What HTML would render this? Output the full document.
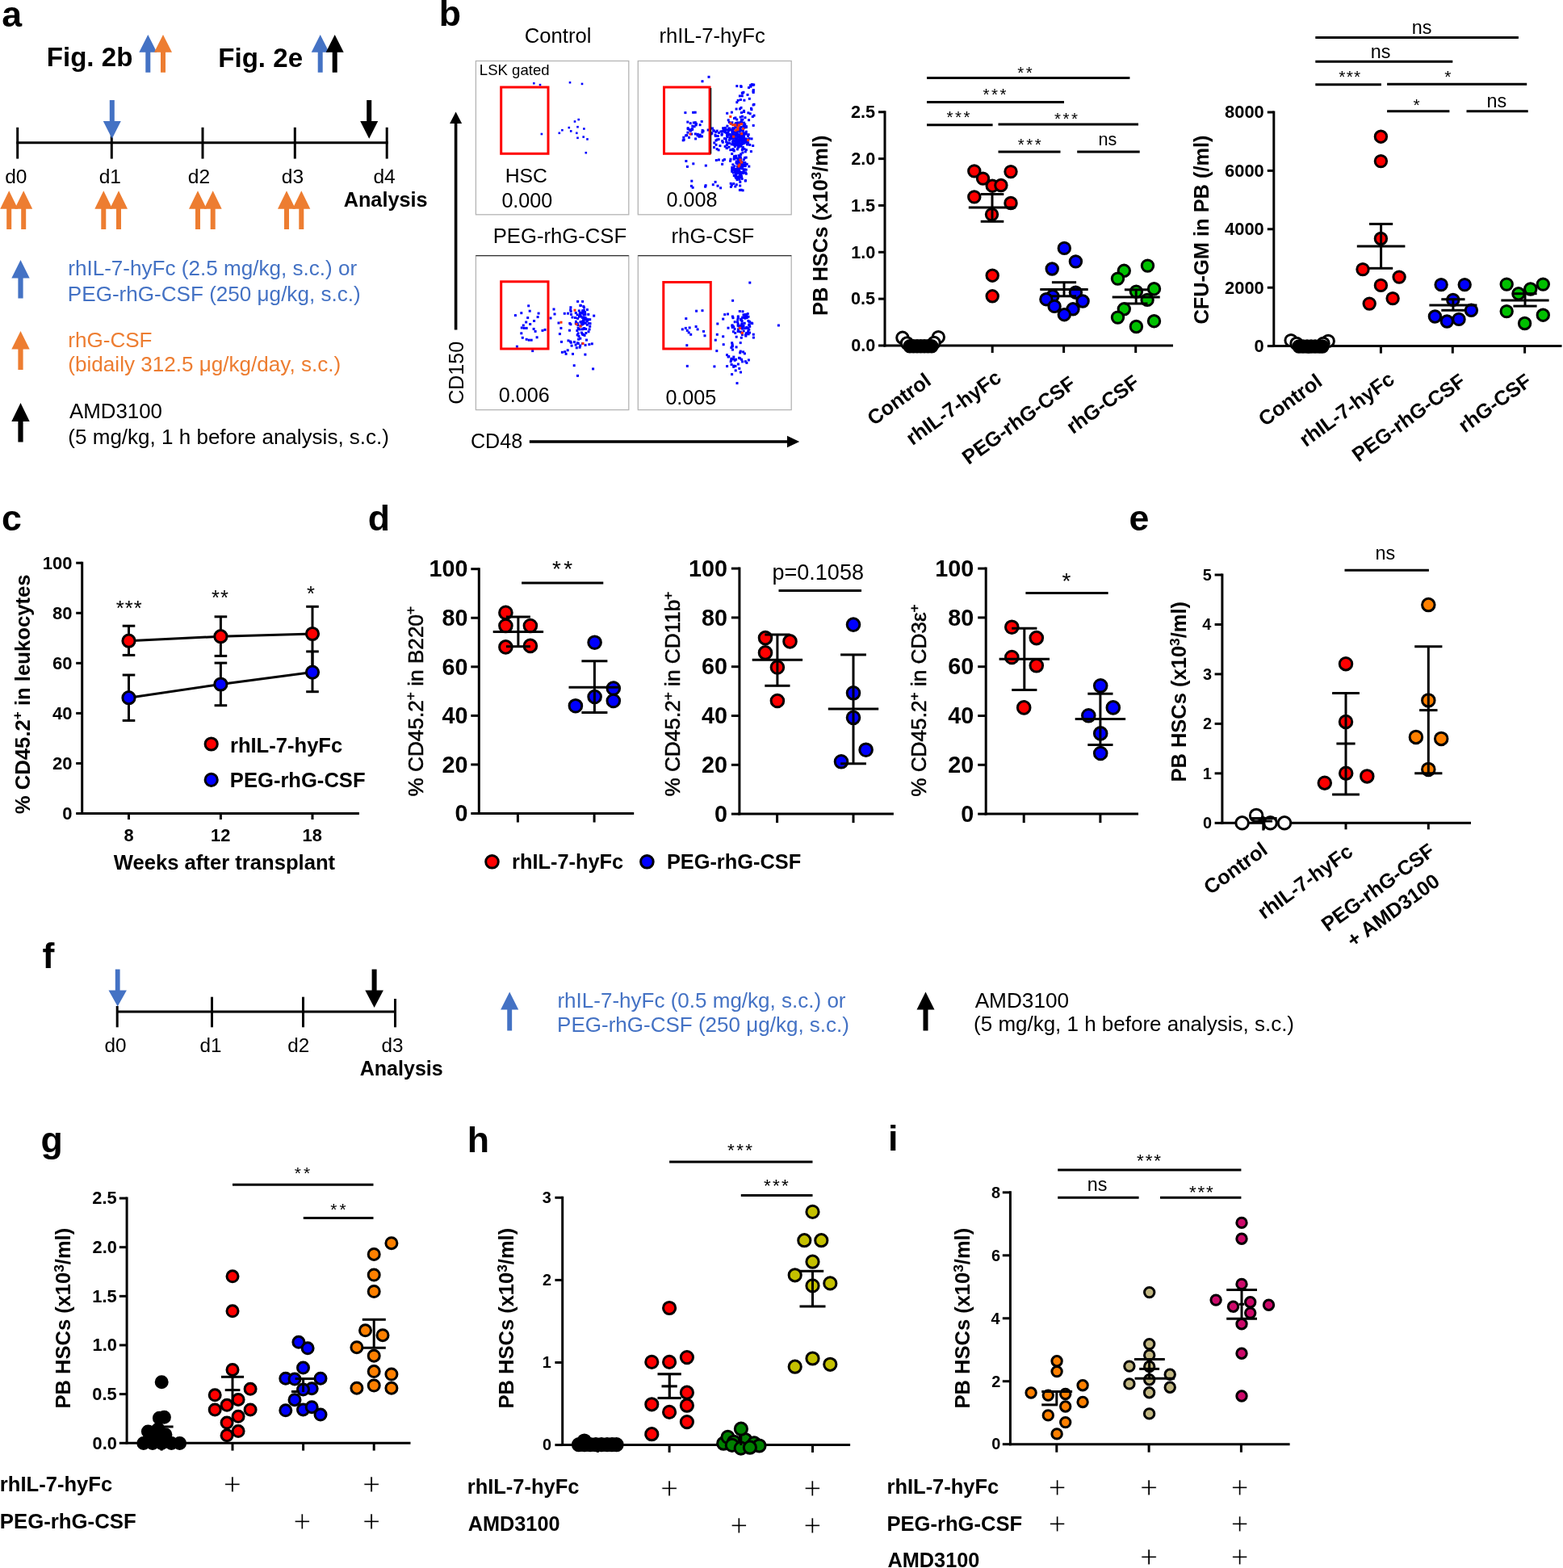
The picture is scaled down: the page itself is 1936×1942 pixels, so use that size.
<!DOCTYPE html>
<html><head><meta charset="utf-8"><title>Figure 2</title>
<style>
html,body{margin:0;padding:0;background:#fff;}
svg{display:block;}
text{font-family:"Liberation Sans",Arial,sans-serif;}
</style></head>
<body>
<svg width="1936" height="1942" viewBox="0 0 1936 1942">
<rect width="1936" height="1942" fill="#fff"/>
<text x="2.36" y="32.50" font-size="44.66" font-weight="bold" fill="#000">a</text>
<text x="543.80" y="32.20" font-size="44.66" font-weight="bold" fill="#000">b</text>
<text x="1.91" y="657.40" font-size="44.66" font-weight="bold" fill="#000">c</text>
<text x="455.71" y="657.40" font-size="44.66" font-weight="bold" fill="#000">d</text>
<text x="1398.51" y="657.00" font-size="44.66" font-weight="bold" fill="#000">e</text>
<text x="52.42" y="1199.20" font-size="44.66" font-weight="bold" fill="#000">f</text>
<text x="50.61" y="1427.10" font-size="44.66" font-weight="bold" fill="#000">g</text>
<text x="578.67" y="1426.50" font-size="44.66" font-weight="bold" fill="#000">h</text>
<text x="1099.97" y="1425.10" font-size="44.66" font-weight="bold" fill="#000">i</text>
<text x="57.77" y="82.00" font-size="33.09" font-weight="bold" fill="#000">Fig. 2b</text>
<text x="270.27" y="82.50" font-size="33.09" font-weight="bold" fill="#000">Fig. 2e</text>
<polygon points="183.30,43.00 194.30,64.70 186.30,64.70 186.30,89.70 180.30,89.70 180.30,64.70 172.30,64.70" fill="#4472C4"/>
<polygon points="202.00,43.00 213.00,64.70 205.00,64.70 205.00,89.70 199.00,89.70 199.00,64.70 191.00,64.70" fill="#ED7D31"/>
<polygon points="396.70,43.00 407.70,64.70 399.70,64.70 399.70,89.70 393.70,89.70 393.70,64.70 385.70,64.70" fill="#4472C4"/>
<polygon points="414.70,43.00 425.70,64.70 417.70,64.70 417.70,89.70 411.70,89.70 411.70,64.70 403.70,64.70" fill="#000"/>
<line x1="20.30" y1="176.70" x2="480.70" y2="176.70" stroke="#000" stroke-width="3" stroke-linecap="butt"/>
<line x1="21.70" y1="157.80" x2="21.70" y2="196.60" stroke="#000" stroke-width="3" stroke-linecap="butt"/>
<line x1="138.30" y1="157.80" x2="138.30" y2="196.60" stroke="#000" stroke-width="3" stroke-linecap="butt"/>
<line x1="251.00" y1="157.80" x2="251.00" y2="196.60" stroke="#000" stroke-width="3" stroke-linecap="butt"/>
<line x1="365.30" y1="157.80" x2="365.30" y2="196.60" stroke="#000" stroke-width="3" stroke-linecap="butt"/>
<line x1="479.20" y1="157.80" x2="479.20" y2="196.60" stroke="#000" stroke-width="3" stroke-linecap="butt"/>
<polygon points="138.80,171.70 149.80,150.00 141.80,150.00 141.80,124.00 135.80,124.00 135.80,150.00 127.80,150.00" fill="#4472C4"/>
<polygon points="457.20,171.70 468.20,150.00 460.20,150.00 460.20,124.00 454.20,124.00 454.20,150.00 446.20,150.00" fill="#000"/>
<text x="6.16" y="226.70" font-size="24.56" fill="#000">d0</text>
<text x="122.63" y="226.70" font-size="24.56" fill="#000">d1</text>
<text x="232.76" y="226.70" font-size="24.56" fill="#000">d2</text>
<text x="348.77" y="226.70" font-size="24.56" fill="#000">d3</text>
<text x="462.43" y="226.70" font-size="24.56" fill="#000">d4</text>
<polygon points="11.20,236.30 22.20,258.70 14.20,258.70 14.20,284.00 8.20,284.00 8.20,258.70 0.20,258.70" fill="#ED7D31"/>
<polygon points="29.20,236.30 40.20,258.70 32.20,258.70 32.20,284.00 26.20,284.00 26.20,258.70 18.20,258.70" fill="#ED7D31"/>
<polygon points="128.30,236.30 139.30,258.70 131.30,258.70 131.30,284.00 125.30,284.00 125.30,258.70 117.30,258.70" fill="#ED7D31"/>
<polygon points="147.00,236.30 158.00,258.70 150.00,258.70 150.00,284.00 144.00,284.00 144.00,258.70 136.00,258.70" fill="#ED7D31"/>
<polygon points="245.00,236.30 256.00,258.70 248.00,258.70 248.00,284.00 242.00,284.00 242.00,258.70 234.00,258.70" fill="#ED7D31"/>
<polygon points="263.70,236.30 274.70,258.70 266.70,258.70 266.70,284.00 260.70,284.00 260.70,258.70 252.70,258.70" fill="#ED7D31"/>
<polygon points="355.00,236.30 366.00,258.70 358.00,258.70 358.00,284.00 352.00,284.00 352.00,258.70 344.00,258.70" fill="#ED7D31"/>
<polygon points="373.30,236.30 384.30,258.70 376.30,258.70 376.30,284.00 370.30,284.00 370.30,258.70 362.30,258.70" fill="#ED7D31"/>
<text x="425.67" y="255.80" font-size="25.27" font-weight="bold" fill="#000">Analysis</text>
<polygon points="25.50,322.00 36.70,344.50 28.60,344.50 28.60,369.50 22.40,369.50 22.40,344.50 14.30,344.50" fill="#4472C4"/>
<polygon points="25.50,410.00 36.70,432.50 28.60,432.50 28.60,458.00 22.40,458.00 22.40,432.50 14.30,432.50" fill="#ED7D31"/>
<polygon points="25.50,499.00 36.70,522.00 28.60,522.00 28.60,547.50 22.40,547.50 22.40,522.00 14.30,522.00" fill="#000"/>
<text x="84.24" y="341.20" font-size="26.09" fill="#4472C4">rhIL-7-hyFc (2.5 mg/kg, s.c.) or</text>
<text x="83.85" y="372.50" font-size="26.09" fill="#4472C4">PEG-rhG-CSF (250 μg/kg, s.c.)</text>
<text x="84.24" y="429.50" font-size="26.09" fill="#ED7D31">rhG-CSF</text>
<text x="84.37" y="460.00" font-size="26.09" fill="#ED7D31">(bidaily 312.5 μg/kg/day, s.c.)</text>
<text x="85.94" y="518.00" font-size="25.88" fill="#000">AMD3100</text>
<text x="84.37" y="549.50" font-size="26.03" fill="#000">(5 mg/kg, 1 h before analysis, s.c.)</text>
<text x="649.72" y="52.50" font-size="25.68" fill="#000">Control</text>
<text x="816.47" y="52.50" font-size="25.68" fill="#000">rhIL-7-hyFc</text>
<text x="610.68" y="301.00" font-size="25.68" fill="#000">PEG-rhG-CSF</text>
<text x="831.57" y="301.00" font-size="25.68" fill="#000">rhG-CSF</text>
<rect x="589.4" y="75.5" width="189.4" height="190.3" fill="#fff" stroke="#b4b4b4" stroke-width="1.3"/>
<rect x="790.3" y="75.5" width="189.9" height="190.3" fill="#fff" stroke="#b4b4b4" stroke-width="1.3"/>
<rect x="589.4" y="316.6" width="189.4" height="191.0" fill="#fff" stroke="#b4b4b4" stroke-width="1.3"/>
<line x1="589.40" y1="316.60" x2="778.80" y2="316.60" stroke="#333" stroke-width="1.3" stroke-linecap="butt"/>
<rect x="790.3" y="316.6" width="189.9" height="191.0" fill="#fff" stroke="#b4b4b4" stroke-width="1.3"/>
<line x1="790.30" y1="316.60" x2="980.20" y2="316.60" stroke="#333" stroke-width="1.3" stroke-linecap="butt"/>
<rect x="660.0" y="101.9" width="2.6" height="2.6" fill="#0000FF"/>
<rect x="667.7" y="103.8" width="2.6" height="2.6" fill="#0000FF"/>
<rect x="704.7" y="100.9" width="2.6" height="2.6" fill="#0000FF"/>
<rect x="719.7" y="102.6" width="2.6" height="2.6" fill="#0000FF"/>
<rect x="669.6" y="164.7" width="2.6" height="2.6" fill="#0000FF"/>
<rect x="691.5" y="163.5" width="2.6" height="2.6" fill="#0000FF"/>
<rect x="695.1" y="159.9" width="2.6" height="2.6" fill="#0000FF"/>
<rect x="703.5" y="156.8" width="2.6" height="2.6" fill="#0000FF"/>
<rect x="705.9" y="161.1" width="2.6" height="2.6" fill="#0000FF"/>
<rect x="710.7" y="149.2" width="2.6" height="2.6" fill="#0000FF"/>
<rect x="715.4" y="146.8" width="2.6" height="2.6" fill="#0000FF"/>
<rect x="714.2" y="155.9" width="2.6" height="2.6" fill="#0000FF"/>
<rect x="722.1" y="158.2" width="2.6" height="2.6" fill="#0000FF"/>
<rect x="713.0" y="163.5" width="2.6" height="2.6" fill="#0000FF"/>
<rect x="714.2" y="169.5" width="2.6" height="2.6" fill="#0000FF"/>
<rect x="721.4" y="168.3" width="2.6" height="2.6" fill="#0000FF"/>
<rect x="726.2" y="171.1" width="2.6" height="2.6" fill="#0000FF"/>
<rect x="724.5" y="187.9" width="2.6" height="2.6" fill="#0000FF"/>
<rect x="910.7" y="172.1" width="3" height="3" fill="#0000FF"/>
<rect x="910.9" y="163.0" width="3" height="3" fill="#0000FF"/>
<rect x="906.0" y="164.2" width="3" height="3" fill="#0000FF"/>
<rect x="920.3" y="171.2" width="3" height="3" fill="#0000FF"/>
<rect x="919.8" y="169.2" width="3" height="3" fill="#0000FF"/>
<rect x="915.3" y="168.5" width="3" height="3" fill="#0000FF"/>
<rect x="900.8" y="175.9" width="3" height="3" fill="#0000FF"/>
<rect x="916.0" y="172.0" width="3" height="3" fill="#0000FF"/>
<rect x="900.7" y="147.3" width="3" height="3" fill="#0000FF"/>
<rect x="906.3" y="161.3" width="3" height="3" fill="#0000FF"/>
<rect x="914.6" y="166.0" width="3" height="3" fill="#0000FF"/>
<rect x="916.1" y="159.4" width="3" height="3" fill="#0000FF"/>
<rect x="914.7" y="170.8" width="3" height="3" fill="#0000FF"/>
<rect x="907.9" y="185.4" width="3" height="3" fill="#0000FF"/>
<rect x="916.4" y="179.7" width="3" height="3" fill="#0000FF"/>
<rect x="908.2" y="158.4" width="3" height="3" fill="#0000FF"/>
<rect x="910.1" y="165.3" width="3" height="3" fill="#0000FF"/>
<rect x="916.9" y="169.2" width="3" height="3" fill="#0000FF"/>
<rect x="909.4" y="156.0" width="3" height="3" fill="#0000FF"/>
<rect x="908.9" y="179.9" width="3" height="3" fill="#0000FF"/>
<rect x="906.8" y="169.2" width="3" height="3" fill="#0000FF"/>
<rect x="915.5" y="150.1" width="3" height="3" fill="#0000FF"/>
<rect x="912.8" y="180.9" width="3" height="3" fill="#0000FF"/>
<rect x="898.4" y="163.0" width="3" height="3" fill="#0000FF"/>
<rect x="911.8" y="157.5" width="3" height="3" fill="#0000FF"/>
<rect x="916.0" y="165.8" width="3" height="3" fill="#0000FF"/>
<rect x="902.2" y="175.6" width="3" height="3" fill="#0000FF"/>
<rect x="917.2" y="176.9" width="3" height="3" fill="#0000FF"/>
<rect x="922.6" y="170.5" width="3" height="3" fill="#0000FF"/>
<rect x="913.3" y="152.2" width="3" height="3" fill="#0000FF"/>
<rect x="916.8" y="159.8" width="3" height="3" fill="#0000FF"/>
<rect x="909.3" y="152.6" width="3" height="3" fill="#0000FF"/>
<rect x="905.7" y="160.7" width="3" height="3" fill="#0000FF"/>
<rect x="921.5" y="144.2" width="3" height="3" fill="#0000FF"/>
<rect x="902.3" y="169.1" width="3" height="3" fill="#0000FF"/>
<rect x="922.6" y="172.9" width="3" height="3" fill="#0000FF"/>
<rect x="899.2" y="138.8" width="3" height="3" fill="#0000FF"/>
<rect x="915.0" y="158.4" width="3" height="3" fill="#0000FF"/>
<rect x="904.7" y="177.3" width="3" height="3" fill="#0000FF"/>
<rect x="920.2" y="168.2" width="3" height="3" fill="#0000FF"/>
<rect x="914.2" y="171.3" width="3" height="3" fill="#0000FF"/>
<rect x="923.7" y="173.3" width="3" height="3" fill="#0000FF"/>
<rect x="916.1" y="172.5" width="3" height="3" fill="#0000FF"/>
<rect x="901.5" y="180.6" width="3" height="3" fill="#0000FF"/>
<rect x="919.2" y="172.3" width="3" height="3" fill="#0000FF"/>
<rect x="898.7" y="159.5" width="3" height="3" fill="#0000FF"/>
<rect x="918.4" y="146.6" width="3" height="3" fill="#0000FF"/>
<rect x="911.2" y="177.7" width="3" height="3" fill="#0000FF"/>
<rect x="903.3" y="184.2" width="3" height="3" fill="#0000FF"/>
<rect x="916.4" y="164.8" width="3" height="3" fill="#0000FF"/>
<rect x="914.8" y="173.6" width="3" height="3" fill="#0000FF"/>
<rect x="913.3" y="179.1" width="3" height="3" fill="#0000FF"/>
<rect x="907.9" y="161.9" width="3" height="3" fill="#0000FF"/>
<rect x="919.8" y="166.8" width="3" height="3" fill="#0000FF"/>
<rect x="906.3" y="176.9" width="3" height="3" fill="#0000FF"/>
<rect x="922.8" y="161.6" width="3" height="3" fill="#0000FF"/>
<rect x="902.8" y="165.0" width="3" height="3" fill="#0000FF"/>
<rect x="911.5" y="163.2" width="3" height="3" fill="#0000FF"/>
<rect x="922.3" y="155.2" width="3" height="3" fill="#0000FF"/>
<rect x="921.3" y="152.5" width="3" height="3" fill="#0000FF"/>
<rect x="907.0" y="173.4" width="3" height="3" fill="#0000FF"/>
<rect x="920.4" y="175.9" width="3" height="3" fill="#0000FF"/>
<rect x="914.9" y="168.1" width="3" height="3" fill="#0000FF"/>
<rect x="913.6" y="172.8" width="3" height="3" fill="#0000FF"/>
<rect x="911.3" y="169.6" width="3" height="3" fill="#0000FF"/>
<rect x="916.5" y="166.5" width="3" height="3" fill="#0000FF"/>
<rect x="917.8" y="172.7" width="3" height="3" fill="#0000FF"/>
<rect x="926.6" y="170.1" width="3" height="3" fill="#0000FF"/>
<rect x="909.5" y="162.4" width="3" height="3" fill="#0000FF"/>
<rect x="912.4" y="176.7" width="3" height="3" fill="#0000FF"/>
<rect x="910.1" y="170.7" width="3" height="3" fill="#0000FF"/>
<rect x="925.4" y="138.3" width="3" height="3" fill="#0000FF"/>
<rect x="904.6" y="169.2" width="3" height="3" fill="#0000FF"/>
<rect x="915.3" y="169.1" width="3" height="3" fill="#0000FF"/>
<rect x="909.5" y="173.7" width="3" height="3" fill="#0000FF"/>
<rect x="914.5" y="160.8" width="3" height="3" fill="#0000FF"/>
<rect x="929.5" y="170.4" width="3" height="3" fill="#0000FF"/>
<rect x="908.6" y="165.4" width="3" height="3" fill="#0000FF"/>
<rect x="910.9" y="165.8" width="3" height="3" fill="#0000FF"/>
<rect x="893.4" y="161.1" width="3" height="3" fill="#0000FF"/>
<rect x="919.6" y="153.6" width="3" height="3" fill="#0000FF"/>
<rect x="912.0" y="177.0" width="3" height="3" fill="#0000FF"/>
<rect x="918.5" y="182.9" width="3" height="3" fill="#0000FF"/>
<rect x="900.6" y="162.6" width="3" height="3" fill="#0000FF"/>
<rect x="910.1" y="173.4" width="3" height="3" fill="#0000FF"/>
<rect x="920.1" y="137.0" width="3" height="3" fill="#0000FF"/>
<rect x="920.1" y="150.6" width="3" height="3" fill="#0000FF"/>
<rect x="917.3" y="150.1" width="3" height="3" fill="#0000FF"/>
<rect x="913.7" y="179.6" width="3" height="3" fill="#0000FF"/>
<rect x="911.5" y="168.6" width="3" height="3" fill="#0000FF"/>
<rect x="918.1" y="168.1" width="3" height="3" fill="#0000FF"/>
<rect x="911.9" y="183.4" width="3" height="3" fill="#0000FF"/>
<rect x="919.8" y="163.3" width="3" height="3" fill="#0000FF"/>
<rect x="931.7" y="153.9" width="3" height="3" fill="#0000FF"/>
<rect x="918.9" y="163.6" width="3" height="3" fill="#0000FF"/>
<rect x="913.4" y="174.3" width="3" height="3" fill="#0000FF"/>
<rect x="914.1" y="173.5" width="3" height="3" fill="#0000FF"/>
<rect x="901.8" y="149.9" width="3" height="3" fill="#0000FF"/>
<rect x="916.8" y="155.9" width="3" height="3" fill="#0000FF"/>
<rect x="905.3" y="150.3" width="3" height="3" fill="#0000FF"/>
<rect x="921.4" y="174.7" width="3" height="3" fill="#0000FF"/>
<rect x="922.8" y="156.2" width="3" height="3" fill="#0000FF"/>
<rect x="912.5" y="154.0" width="3" height="3" fill="#0000FF"/>
<rect x="917.9" y="184.0" width="3" height="3" fill="#0000FF"/>
<rect x="906.3" y="183.7" width="3" height="3" fill="#0000FF"/>
<rect x="919.4" y="164.5" width="3" height="3" fill="#0000FF"/>
<rect x="898.7" y="182.0" width="3" height="3" fill="#0000FF"/>
<rect x="911.8" y="159.9" width="3" height="3" fill="#0000FF"/>
<rect x="915.3" y="171.0" width="3" height="3" fill="#0000FF"/>
<rect x="923.0" y="155.3" width="3" height="3" fill="#0000FF"/>
<rect x="920.5" y="182.9" width="3" height="3" fill="#0000FF"/>
<rect x="922.7" y="164.5" width="3" height="3" fill="#0000FF"/>
<rect x="907.3" y="177.7" width="3" height="3" fill="#0000FF"/>
<rect x="913.3" y="167.9" width="3" height="3" fill="#0000FF"/>
<rect x="922.5" y="163.6" width="3" height="3" fill="#0000FF"/>
<rect x="896.4" y="162.2" width="3" height="3" fill="#0000FF"/>
<rect x="899.5" y="175.5" width="3" height="3" fill="#0000FF"/>
<rect x="914.7" y="159.8" width="3" height="3" fill="#0000FF"/>
<rect x="912.4" y="175.7" width="3" height="3" fill="#0000FF"/>
<rect x="913.1" y="181.1" width="3" height="3" fill="#0000FF"/>
<rect x="912.1" y="177.9" width="3" height="3" fill="#0000FF"/>
<rect x="922.9" y="184.2" width="3" height="3" fill="#0000FF"/>
<rect x="907.8" y="176.2" width="3" height="3" fill="#0000FF"/>
<rect x="899.4" y="154.6" width="3" height="3" fill="#0000FF"/>
<rect x="898.8" y="178.3" width="3" height="3" fill="#0000FF"/>
<rect x="903.9" y="166.4" width="3" height="3" fill="#0000FF"/>
<rect x="911.2" y="166.2" width="3" height="3" fill="#0000FF"/>
<rect x="908.4" y="169.1" width="3" height="3" fill="#0000FF"/>
<rect x="925.0" y="167.0" width="3" height="3" fill="#0000FF"/>
<rect x="916.2" y="177.5" width="3" height="3" fill="#0000FF"/>
<rect x="911.1" y="152.6" width="3" height="3" fill="#0000FF"/>
<rect x="908.6" y="178.3" width="3" height="3" fill="#0000FF"/>
<rect x="901.0" y="159.9" width="3" height="3" fill="#0000FF"/>
<rect x="919.6" y="175.2" width="3" height="3" fill="#0000FF"/>
<rect x="912.6" y="175.4" width="3" height="3" fill="#0000FF"/>
<rect x="913.7" y="153.5" width="3" height="3" fill="#0000FF"/>
<rect x="901.6" y="159.5" width="3" height="3" fill="#0000FF"/>
<rect x="919.0" y="160.3" width="3" height="3" fill="#0000FF"/>
<rect x="906.2" y="158.0" width="3" height="3" fill="#0000FF"/>
<rect x="901.8" y="165.2" width="3" height="3" fill="#0000FF"/>
<rect x="904.2" y="170.5" width="3" height="3" fill="#0000FF"/>
<rect x="896.0" y="170.1" width="3" height="3" fill="#0000FF"/>
<rect x="908.0" y="145.1" width="3" height="3" fill="#0000FF"/>
<rect x="917.6" y="163.5" width="3" height="3" fill="#0000FF"/>
<rect x="896.9" y="156.9" width="3" height="3" fill="#0000FF"/>
<rect x="914.5" y="161.5" width="3" height="3" fill="#0000FF"/>
<rect x="918.0" y="174.7" width="3" height="3" fill="#0000FF"/>
<rect x="917.2" y="170.1" width="3" height="3" fill="#0000FF"/>
<rect x="921.8" y="173.8" width="3" height="3" fill="#0000FF"/>
<rect x="915.7" y="143.6" width="3" height="3" fill="#0000FF"/>
<rect x="918.8" y="180.9" width="3" height="3" fill="#0000FF"/>
<rect x="910.4" y="161.3" width="3" height="3" fill="#0000FF"/>
<rect x="926.1" y="147.2" width="3" height="3" fill="#0000FF"/>
<rect x="915.8" y="193.2" width="3" height="3" fill="#0000FF"/>
<rect x="906.0" y="174.1" width="3" height="3" fill="#0000FF"/>
<rect x="925.7" y="165.2" width="3" height="3" fill="#0000FF"/>
<rect x="916.4" y="176.4" width="3" height="3" fill="#0000FF"/>
<rect x="906.2" y="165.5" width="3" height="3" fill="#0000FF"/>
<rect x="914.5" y="175.6" width="3" height="3" fill="#0000FF"/>
<rect x="912.3" y="164.4" width="3" height="3" fill="#0000FF"/>
<rect x="905.4" y="162.6" width="3" height="3" fill="#0000FF"/>
<rect x="918.7" y="167.6" width="3" height="3" fill="#0000FF"/>
<rect x="906.5" y="157.2" width="3" height="3" fill="#0000FF"/>
<rect x="931.2" y="179.0" width="3" height="3" fill="#0000FF"/>
<rect x="917.0" y="138.0" width="3" height="3" fill="#0000FF"/>
<rect x="916.9" y="171.8" width="3" height="3" fill="#0000FF"/>
<rect x="924.3" y="171.2" width="3" height="3" fill="#0000FF"/>
<rect x="912.0" y="172.2" width="3" height="3" fill="#0000FF"/>
<rect x="898.9" y="177.9" width="3" height="3" fill="#0000FF"/>
<rect x="914.8" y="158.8" width="3" height="3" fill="#0000FF"/>
<rect x="921.8" y="186.4" width="3" height="3" fill="#0000FF"/>
<rect x="902.7" y="159.2" width="3" height="3" fill="#0000FF"/>
<rect x="914.5" y="168.5" width="3" height="3" fill="#0000FF"/>
<rect x="909.7" y="155.8" width="3" height="3" fill="#0000FF"/>
<rect x="927.3" y="177.9" width="3" height="3" fill="#0000FF"/>
<rect x="904.1" y="151.7" width="3" height="3" fill="#0000FF"/>
<rect x="924.4" y="177.4" width="3" height="3" fill="#0000FF"/>
<rect x="925.2" y="175.4" width="3" height="3" fill="#0000FF"/>
<rect x="906.4" y="169.4" width="3" height="3" fill="#0000FF"/>
<rect x="897.4" y="158.3" width="3" height="3" fill="#0000FF"/>
<rect x="912.1" y="172.3" width="3" height="3" fill="#0000FF"/>
<rect x="907.4" y="165.1" width="3" height="3" fill="#0000FF"/>
<rect x="915.7" y="170.6" width="3" height="3" fill="#0000FF"/>
<rect x="917.0" y="168.8" width="3" height="3" fill="#0000FF"/>
<rect x="910.2" y="175.2" width="3" height="3" fill="#0000FF"/>
<rect x="912.8" y="157.4" width="3" height="3" fill="#0000FF"/>
<rect x="908.1" y="166.5" width="3" height="3" fill="#0000FF"/>
<rect x="911.7" y="168.2" width="3" height="3" fill="#0000FF"/>
<rect x="912.5" y="168.4" width="3" height="3" fill="#0000FF"/>
<rect x="911.6" y="152.7" width="3" height="3" fill="#0000FF"/>
<rect x="915.4" y="178.1" width="3" height="3" fill="#0000FF"/>
<rect x="915.5" y="164.4" width="3" height="3" fill="#0000FF"/>
<rect x="915.6" y="155.9" width="3" height="3" fill="#0000FF"/>
<rect x="899.2" y="167.2" width="3" height="3" fill="#0000FF"/>
<rect x="906.0" y="174.6" width="3" height="3" fill="#0000FF"/>
<rect x="904.9" y="137.6" width="3" height="3" fill="#0000FF"/>
<rect x="905.2" y="183.9" width="3" height="3" fill="#0000FF"/>
<rect x="909.8" y="151.4" width="3" height="3" fill="#0000FF"/>
<rect x="907.2" y="172.2" width="3" height="3" fill="#0000FF"/>
<rect x="916.0" y="168.4" width="3" height="3" fill="#0000FF"/>
<rect x="922.9" y="174.3" width="3" height="3" fill="#0000FF"/>
<rect x="912.4" y="173.1" width="3" height="3" fill="#0000FF"/>
<rect x="924.1" y="177.2" width="3" height="3" fill="#0000FF"/>
<rect x="919.7" y="154.6" width="3" height="3" fill="#0000FF"/>
<rect x="911.5" y="174.5" width="3" height="3" fill="#0000FF"/>
<rect x="910.4" y="178.3" width="3" height="3" fill="#0000FF"/>
<rect x="916.7" y="176.5" width="3" height="3" fill="#0000FF"/>
<rect x="911.0" y="194.5" width="3" height="3" fill="#0000FF"/>
<rect x="921.2" y="164.1" width="3" height="3" fill="#0000FF"/>
<rect x="913.1" y="195.0" width="3" height="3" fill="#0000FF"/>
<rect x="910.1" y="176.1" width="3" height="3" fill="#0000FF"/>
<rect x="919.4" y="166.6" width="3" height="3" fill="#0000FF"/>
<rect x="904.3" y="168.6" width="3" height="3" fill="#0000FF"/>
<rect x="915.0" y="178.9" width="3" height="3" fill="#0000FF"/>
<rect x="918.0" y="166.8" width="3" height="3" fill="#0000FF"/>
<rect x="918.5" y="172.4" width="3" height="3" fill="#0000FF"/>
<rect x="913.9" y="167.1" width="3" height="3" fill="#0000FF"/>
<rect x="910.8" y="174.0" width="3" height="3" fill="#0000FF"/>
<rect x="905.1" y="159.6" width="3" height="3" fill="#0000FF"/>
<rect x="912.5" y="150.4" width="3" height="3" fill="#0000FF"/>
<rect x="909.4" y="144.4" width="3" height="3" fill="#0000FF"/>
<rect x="907.7" y="172.8" width="3" height="3" fill="#0000FF"/>
<rect x="916.5" y="165.9" width="3" height="3" fill="#0000FF"/>
<rect x="910.9" y="150.9" width="3" height="3" fill="#0000FF"/>
<rect x="925.3" y="172.2" width="3" height="3" fill="#0000FF"/>
<rect x="920.2" y="156.8" width="3" height="3" fill="#0000FF"/>
<rect x="911.2" y="146.5" width="3" height="3" fill="#0000FF"/>
<rect x="918.0" y="176.8" width="3" height="3" fill="#0000FF"/>
<rect x="899.2" y="165.9" width="3" height="3" fill="#0000FF"/>
<rect x="916.9" y="147.1" width="3" height="3" fill="#0000FF"/>
<rect x="903.5" y="195.7" width="3" height="3" fill="#0000FF"/>
<rect x="910.0" y="191.7" width="3" height="3" fill="#0000FF"/>
<rect x="913.7" y="211.5" width="3" height="3" fill="#0000FF"/>
<rect x="917.0" y="216.9" width="3" height="3" fill="#0000FF"/>
<rect x="921.8" y="222.5" width="3" height="3" fill="#0000FF"/>
<rect x="906.3" y="202.4" width="3" height="3" fill="#0000FF"/>
<rect x="907.7" y="195.6" width="3" height="3" fill="#0000FF"/>
<rect x="913.1" y="208.6" width="3" height="3" fill="#0000FF"/>
<rect x="916.2" y="189.5" width="3" height="3" fill="#0000FF"/>
<rect x="906.7" y="208.2" width="3" height="3" fill="#0000FF"/>
<rect x="912.4" y="204.8" width="3" height="3" fill="#0000FF"/>
<rect x="913.2" y="199.4" width="3" height="3" fill="#0000FF"/>
<rect x="917.4" y="212.8" width="3" height="3" fill="#0000FF"/>
<rect x="913.0" y="200.4" width="3" height="3" fill="#0000FF"/>
<rect x="908.1" y="208.9" width="3" height="3" fill="#0000FF"/>
<rect x="905.2" y="210.9" width="3" height="3" fill="#0000FF"/>
<rect x="914.3" y="192.0" width="3" height="3" fill="#0000FF"/>
<rect x="912.1" y="204.7" width="3" height="3" fill="#0000FF"/>
<rect x="916.0" y="215.8" width="3" height="3" fill="#0000FF"/>
<rect x="913.3" y="198.3" width="3" height="3" fill="#0000FF"/>
<rect x="912.7" y="207.7" width="3" height="3" fill="#0000FF"/>
<rect x="917.5" y="212.0" width="3" height="3" fill="#0000FF"/>
<rect x="909.5" y="192.2" width="3" height="3" fill="#0000FF"/>
<rect x="911.4" y="199.6" width="3" height="3" fill="#0000FF"/>
<rect x="907.4" y="207.1" width="3" height="3" fill="#0000FF"/>
<rect x="910.8" y="209.8" width="3" height="3" fill="#0000FF"/>
<rect x="916.4" y="203.5" width="3" height="3" fill="#0000FF"/>
<rect x="926.3" y="204.6" width="3" height="3" fill="#0000FF"/>
<rect x="919.6" y="210.0" width="3" height="3" fill="#0000FF"/>
<rect x="909.4" y="211.5" width="3" height="3" fill="#0000FF"/>
<rect x="915.3" y="223.9" width="3" height="3" fill="#0000FF"/>
<rect x="917.7" y="219.9" width="3" height="3" fill="#0000FF"/>
<rect x="916.3" y="206.6" width="3" height="3" fill="#0000FF"/>
<rect x="916.3" y="195.6" width="3" height="3" fill="#0000FF"/>
<rect x="920.0" y="196.3" width="3" height="3" fill="#0000FF"/>
<rect x="914.9" y="233.9" width="3" height="3" fill="#0000FF"/>
<rect x="912.3" y="208.7" width="3" height="3" fill="#0000FF"/>
<rect x="919.9" y="208.8" width="3" height="3" fill="#0000FF"/>
<rect x="909.1" y="211.6" width="3" height="3" fill="#0000FF"/>
<rect x="916.7" y="217.0" width="3" height="3" fill="#0000FF"/>
<rect x="909.3" y="229.5" width="3" height="3" fill="#0000FF"/>
<rect x="922.7" y="208.7" width="3" height="3" fill="#0000FF"/>
<rect x="915.0" y="203.4" width="3" height="3" fill="#0000FF"/>
<rect x="921.3" y="200.0" width="3" height="3" fill="#0000FF"/>
<rect x="917.2" y="202.7" width="3" height="3" fill="#0000FF"/>
<rect x="909.7" y="217.1" width="3" height="3" fill="#0000FF"/>
<rect x="920.8" y="208.4" width="3" height="3" fill="#0000FF"/>
<rect x="909.8" y="218.2" width="3" height="3" fill="#0000FF"/>
<rect x="913.2" y="212.2" width="3" height="3" fill="#0000FF"/>
<rect x="921.9" y="222.1" width="3" height="3" fill="#0000FF"/>
<rect x="913.5" y="217.9" width="3" height="3" fill="#0000FF"/>
<rect x="909.9" y="208.0" width="3" height="3" fill="#0000FF"/>
<rect x="903.9" y="229.9" width="3" height="3" fill="#0000FF"/>
<rect x="921.0" y="193.9" width="3" height="3" fill="#0000FF"/>
<rect x="905.2" y="189.0" width="3" height="3" fill="#0000FF"/>
<rect x="920.0" y="203.0" width="3" height="3" fill="#0000FF"/>
<rect x="913.2" y="204.7" width="3" height="3" fill="#0000FF"/>
<rect x="912.8" y="195.4" width="3" height="3" fill="#0000FF"/>
<rect x="913.6" y="191.2" width="3" height="3" fill="#0000FF"/>
<rect x="913.1" y="212.2" width="3" height="3" fill="#0000FF"/>
<rect x="916.1" y="205.7" width="3" height="3" fill="#0000FF"/>
<rect x="908.5" y="210.4" width="3" height="3" fill="#0000FF"/>
<rect x="910.8" y="227.3" width="3" height="3" fill="#0000FF"/>
<rect x="917.7" y="207.1" width="3" height="3" fill="#0000FF"/>
<rect x="910.9" y="200.1" width="3" height="3" fill="#0000FF"/>
<rect x="908.3" y="204.3" width="3" height="3" fill="#0000FF"/>
<rect x="915.1" y="214.7" width="3" height="3" fill="#0000FF"/>
<rect x="916.6" y="233.7" width="3" height="3" fill="#0000FF"/>
<rect x="909.6" y="208.7" width="3" height="3" fill="#0000FF"/>
<rect x="928.9" y="186.1" width="3" height="3" fill="#0000FF"/>
<rect x="910.6" y="210.5" width="3" height="3" fill="#0000FF"/>
<rect x="914.3" y="213.4" width="3" height="3" fill="#0000FF"/>
<rect x="912.2" y="212.9" width="3" height="3" fill="#0000FF"/>
<rect x="913.8" y="217.8" width="3" height="3" fill="#0000FF"/>
<rect x="903.1" y="197.9" width="3" height="3" fill="#0000FF"/>
<rect x="913.5" y="196.1" width="3" height="3" fill="#0000FF"/>
<rect x="907.8" y="216.0" width="3" height="3" fill="#0000FF"/>
<rect x="909.9" y="216.1" width="3" height="3" fill="#0000FF"/>
<rect x="917.6" y="212.2" width="3" height="3" fill="#0000FF"/>
<rect x="916.3" y="207.2" width="3" height="3" fill="#0000FF"/>
<rect x="905.7" y="208.1" width="3" height="3" fill="#0000FF"/>
<rect x="916.0" y="202.1" width="3" height="3" fill="#0000FF"/>
<rect x="913.0" y="217.5" width="3" height="3" fill="#0000FF"/>
<rect x="908.7" y="216.2" width="3" height="3" fill="#0000FF"/>
<rect x="923.7" y="201.8" width="3" height="3" fill="#0000FF"/>
<rect x="914.3" y="206.7" width="3" height="3" fill="#0000FF"/>
<rect x="922.0" y="212.3" width="3" height="3" fill="#0000FF"/>
<rect x="918.4" y="200.2" width="3" height="3" fill="#0000FF"/>
<rect x="913.4" y="208.4" width="3" height="3" fill="#0000FF"/>
<rect x="903.7" y="225.8" width="3" height="3" fill="#0000FF"/>
<rect x="918.4" y="187.5" width="3" height="3" fill="#0000FF"/>
<rect x="917.6" y="206.9" width="3" height="3" fill="#0000FF"/>
<rect x="916.0" y="212.9" width="3" height="3" fill="#0000FF"/>
<rect x="905.3" y="206.0" width="3" height="3" fill="#0000FF"/>
<rect x="921.7" y="201.6" width="3" height="3" fill="#0000FF"/>
<rect x="907.9" y="192.2" width="3" height="3" fill="#0000FF"/>
<rect x="906.8" y="212.5" width="3" height="3" fill="#0000FF"/>
<rect x="922.8" y="213.7" width="3" height="3" fill="#0000FF"/>
<rect x="910.6" y="200.4" width="3" height="3" fill="#0000FF"/>
<rect x="916.4" y="215.1" width="3" height="3" fill="#0000FF"/>
<rect x="907.9" y="194.5" width="3" height="3" fill="#0000FF"/>
<rect x="915.1" y="211.5" width="3" height="3" fill="#0000FF"/>
<rect x="906.3" y="206.1" width="3" height="3" fill="#0000FF"/>
<rect x="910.5" y="214.0" width="3" height="3" fill="#0000FF"/>
<rect x="912.9" y="207.5" width="3" height="3" fill="#0000FF"/>
<rect x="911.6" y="221.1" width="3" height="3" fill="#0000FF"/>
<rect x="921.1" y="204.1" width="3" height="3" fill="#0000FF"/>
<rect x="918.2" y="199.4" width="3" height="3" fill="#0000FF"/>
<rect x="913.9" y="217.5" width="3" height="3" fill="#0000FF"/>
<rect x="921.8" y="203.9" width="3" height="3" fill="#0000FF"/>
<rect x="913.1" y="210.9" width="3" height="3" fill="#0000FF"/>
<rect x="905.3" y="208.7" width="3" height="3" fill="#0000FF"/>
<rect x="909.8" y="213.0" width="3" height="3" fill="#0000FF"/>
<rect x="907.3" y="184.8" width="3" height="3" fill="#0000FF"/>
<rect x="913.7" y="211.6" width="3" height="3" fill="#0000FF"/>
<rect x="910.5" y="219.2" width="3" height="3" fill="#0000FF"/>
<rect x="912.0" y="201.2" width="3" height="3" fill="#0000FF"/>
<rect x="916.1" y="189.7" width="3" height="3" fill="#0000FF"/>
<rect x="909.8" y="208.3" width="3" height="3" fill="#0000FF"/>
<rect x="918.2" y="206.5" width="3" height="3" fill="#0000FF"/>
<rect x="915.2" y="200.6" width="3" height="3" fill="#0000FF"/>
<rect x="915.2" y="228.5" width="3" height="3" fill="#0000FF"/>
<rect x="910.0" y="208.7" width="3" height="3" fill="#0000FF"/>
<rect x="914.5" y="220.8" width="3" height="3" fill="#0000FF"/>
<rect x="906.7" y="183.3" width="3" height="3" fill="#0000FF"/>
<rect x="916.8" y="218.0" width="3" height="3" fill="#0000FF"/>
<rect x="914.6" y="211.5" width="3" height="3" fill="#0000FF"/>
<rect x="918.6" y="212.9" width="3" height="3" fill="#0000FF"/>
<rect x="922.7" y="193.6" width="3" height="3" fill="#0000FF"/>
<rect x="918.0" y="204.0" width="3" height="3" fill="#0000FF"/>
<rect x="918.6" y="234.3" width="3" height="3" fill="#0000FF"/>
<rect x="913.5" y="205.4" width="3" height="3" fill="#0000FF"/>
<rect x="910.8" y="198.4" width="3" height="3" fill="#0000FF"/>
<rect x="910.0" y="216.2" width="3" height="3" fill="#0000FF"/>
<rect x="913.7" y="209.3" width="3" height="3" fill="#0000FF"/>
<rect x="912.5" y="219.5" width="3" height="3" fill="#0000FF"/>
<rect x="916.2" y="206.8" width="3" height="3" fill="#0000FF"/>
<rect x="917.2" y="206.7" width="3" height="3" fill="#0000FF"/>
<rect x="907.2" y="226.0" width="3" height="3" fill="#0000FF"/>
<rect x="916.1" y="197.0" width="3" height="3" fill="#0000FF"/>
<rect x="919.4" y="212.6" width="3" height="3" fill="#0000FF"/>
<rect x="904.9" y="227.8" width="3" height="3" fill="#0000FF"/>
<rect x="914.9" y="117.4" width="3" height="3" fill="#0000FF"/>
<rect x="931.1" y="103.7" width="3" height="3" fill="#0000FF"/>
<rect x="919.9" y="135.8" width="3" height="3" fill="#0000FF"/>
<rect x="928.1" y="104.2" width="3" height="3" fill="#0000FF"/>
<rect x="911.3" y="105.1" width="3" height="3" fill="#0000FF"/>
<rect x="931.7" y="113.0" width="3" height="3" fill="#0000FF"/>
<rect x="927.7" y="139.3" width="3" height="3" fill="#0000FF"/>
<rect x="918.3" y="113.7" width="3" height="3" fill="#0000FF"/>
<rect x="932.5" y="127.8" width="3" height="3" fill="#0000FF"/>
<rect x="916.5" y="131.9" width="3" height="3" fill="#0000FF"/>
<rect x="917.8" y="113.8" width="3" height="3" fill="#0000FF"/>
<rect x="910.6" y="133.5" width="3" height="3" fill="#0000FF"/>
<rect x="931.6" y="128.5" width="3" height="3" fill="#0000FF"/>
<rect x="932.2" y="103.5" width="3" height="3" fill="#0000FF"/>
<rect x="915.9" y="122.0" width="3" height="3" fill="#0000FF"/>
<rect x="932.5" y="141.6" width="3" height="3" fill="#0000FF"/>
<rect x="919.4" y="112.8" width="3" height="3" fill="#0000FF"/>
<rect x="920.4" y="122.7" width="3" height="3" fill="#0000FF"/>
<rect x="931.8" y="110.0" width="3" height="3" fill="#0000FF"/>
<rect x="929.0" y="132.8" width="3" height="3" fill="#0000FF"/>
<rect x="929.4" y="134.2" width="3" height="3" fill="#0000FF"/>
<rect x="924.5" y="115.9" width="3" height="3" fill="#0000FF"/>
<rect x="917.8" y="117.3" width="3" height="3" fill="#0000FF"/>
<rect x="928.5" y="105.7" width="3" height="3" fill="#0000FF"/>
<rect x="915.0" y="133.4" width="3" height="3" fill="#0000FF"/>
<rect x="916.2" y="105.2" width="3" height="3" fill="#0000FF"/>
<rect x="911.3" y="125.2" width="3" height="3" fill="#0000FF"/>
<rect x="918.0" y="142.7" width="3" height="3" fill="#0000FF"/>
<rect x="930.8" y="143.0" width="3" height="3" fill="#0000FF"/>
<rect x="916.6" y="105.9" width="3" height="3" fill="#0000FF"/>
<rect x="912.7" y="122.9" width="3" height="3" fill="#0000FF"/>
<rect x="926.8" y="120.8" width="3" height="3" fill="#0000FF"/>
<rect x="884.9" y="167.0" width="3" height="3" fill="#0000FF"/>
<rect x="893.8" y="174.7" width="3" height="3" fill="#0000FF"/>
<rect x="896.7" y="179.9" width="3" height="3" fill="#0000FF"/>
<rect x="894.8" y="158.1" width="3" height="3" fill="#0000FF"/>
<rect x="898.8" y="163.3" width="3" height="3" fill="#0000FF"/>
<rect x="892.5" y="165.7" width="3" height="3" fill="#0000FF"/>
<rect x="896.5" y="160.5" width="3" height="3" fill="#0000FF"/>
<rect x="885.2" y="161.9" width="3" height="3" fill="#0000FF"/>
<rect x="883.0" y="181.0" width="3" height="3" fill="#0000FF"/>
<rect x="892.8" y="164.3" width="3" height="3" fill="#0000FF"/>
<rect x="888.6" y="184.3" width="3" height="3" fill="#0000FF"/>
<rect x="891.2" y="161.4" width="3" height="3" fill="#0000FF"/>
<rect x="898.1" y="174.1" width="3" height="3" fill="#0000FF"/>
<rect x="902.3" y="157.6" width="3" height="3" fill="#0000FF"/>
<rect x="890.4" y="179.1" width="3" height="3" fill="#0000FF"/>
<rect x="898.8" y="181.9" width="3" height="3" fill="#0000FF"/>
<rect x="880.4" y="163.3" width="3" height="3" fill="#0000FF"/>
<rect x="882.2" y="160.2" width="3" height="3" fill="#0000FF"/>
<rect x="901.9" y="172.0" width="3" height="3" fill="#0000FF"/>
<rect x="900.9" y="165.7" width="3" height="3" fill="#0000FF"/>
<rect x="899.4" y="168.0" width="3" height="3" fill="#0000FF"/>
<rect x="885.5" y="177.8" width="3" height="3" fill="#0000FF"/>
<rect x="901.3" y="157.7" width="3" height="3" fill="#0000FF"/>
<rect x="893.2" y="173.1" width="3" height="3" fill="#0000FF"/>
<rect x="884.5" y="165.6" width="3" height="3" fill="#0000FF"/>
<rect x="882.8" y="160.6" width="3" height="3" fill="#0000FF"/>
<rect x="885.4" y="172.5" width="3" height="3" fill="#0000FF"/>
<rect x="894.5" y="160.6" width="3" height="3" fill="#0000FF"/>
<rect x="879.8" y="164.3" width="3" height="3" fill="#0000FF"/>
<rect x="895.1" y="160.1" width="3" height="3" fill="#0000FF"/>
<rect x="886.7" y="160.6" width="3" height="3" fill="#0000FF"/>
<rect x="897.8" y="170.9" width="3" height="3" fill="#0000FF"/>
<rect x="881.0" y="157.5" width="3" height="3" fill="#0000FF"/>
<rect x="888.6" y="171.0" width="3" height="3" fill="#0000FF"/>
<rect x="894.2" y="157.2" width="3" height="3" fill="#0000FF"/>
<rect x="883.3" y="175.4" width="3" height="3" fill="#0000FF"/>
<rect x="888.9" y="163.0" width="3" height="3" fill="#0000FF"/>
<rect x="886.6" y="183.1" width="3" height="3" fill="#0000FF"/>
<rect x="886.7" y="171.5" width="3" height="3" fill="#0000FF"/>
<rect x="887.7" y="167.0" width="3" height="3" fill="#0000FF"/>
<rect x="855.0" y="164.5" width="3" height="3" fill="#0000FF"/>
<rect x="857.8" y="150.5" width="3" height="3" fill="#0000FF"/>
<rect x="875.7" y="159.5" width="3" height="3" fill="#0000FF"/>
<rect x="845.3" y="168.7" width="3" height="3" fill="#0000FF"/>
<rect x="844.7" y="172.3" width="3" height="3" fill="#0000FF"/>
<rect x="853.9" y="160.2" width="3" height="3" fill="#0000FF"/>
<rect x="868.6" y="159.9" width="3" height="3" fill="#0000FF"/>
<rect x="847.4" y="138.1" width="3" height="3" fill="#0000FF"/>
<rect x="868.0" y="167.4" width="3" height="3" fill="#0000FF"/>
<rect x="852.0" y="168.8" width="3" height="3" fill="#0000FF"/>
<rect x="862.5" y="166.3" width="3" height="3" fill="#0000FF"/>
<rect x="865.7" y="167.3" width="3" height="3" fill="#0000FF"/>
<rect x="859.9" y="164.4" width="3" height="3" fill="#0000FF"/>
<rect x="855.9" y="158.9" width="3" height="3" fill="#0000FF"/>
<rect x="865.6" y="153.2" width="3" height="3" fill="#0000FF"/>
<rect x="867.7" y="149.0" width="3" height="3" fill="#0000FF"/>
<rect x="860.6" y="152.2" width="3" height="3" fill="#0000FF"/>
<rect x="859.8" y="150.2" width="3" height="3" fill="#0000FF"/>
<rect x="845.7" y="171.6" width="3" height="3" fill="#0000FF"/>
<rect x="860.9" y="151.8" width="3" height="3" fill="#0000FF"/>
<rect x="860.1" y="170.4" width="3" height="3" fill="#0000FF"/>
<rect x="850.7" y="157.2" width="3" height="3" fill="#0000FF"/>
<rect x="862.8" y="164.8" width="3" height="3" fill="#0000FF"/>
<rect x="868.4" y="162.4" width="3" height="3" fill="#0000FF"/>
<rect x="858.6" y="155.2" width="3" height="3" fill="#0000FF"/>
<rect x="860.6" y="153.4" width="3" height="3" fill="#0000FF"/>
<rect x="850.3" y="149.6" width="3" height="3" fill="#0000FF"/>
<rect x="853.7" y="151.2" width="3" height="3" fill="#0000FF"/>
<rect x="849.2" y="166.1" width="3" height="3" fill="#0000FF"/>
<rect x="848.0" y="166.4" width="3" height="3" fill="#0000FF"/>
<rect x="850.4" y="162.7" width="3" height="3" fill="#0000FF"/>
<rect x="869.5" y="160.9" width="3" height="3" fill="#0000FF"/>
<rect x="852.7" y="159.1" width="3" height="3" fill="#0000FF"/>
<rect x="859.7" y="137.7" width="3" height="3" fill="#0000FF"/>
<rect x="853.6" y="160.5" width="3" height="3" fill="#0000FF"/>
<rect x="854.7" y="159.5" width="3" height="3" fill="#0000FF"/>
<rect x="864.4" y="167.7" width="3" height="3" fill="#0000FF"/>
<rect x="865.7" y="165.6" width="3" height="3" fill="#0000FF"/>
<rect x="856.2" y="158.3" width="3" height="3" fill="#0000FF"/>
<rect x="856.3" y="154.7" width="3" height="3" fill="#0000FF"/>
<rect x="857.1" y="137.8" width="3" height="3" fill="#0000FF"/>
<rect x="855.8" y="158.2" width="3" height="3" fill="#0000FF"/>
<rect x="850.7" y="158.2" width="3" height="3" fill="#0000FF"/>
<rect x="895.9" y="196.1" width="3" height="3" fill="#0000FF"/>
<rect x="891.1" y="231.3" width="3" height="3" fill="#0000FF"/>
<rect x="884.6" y="223.9" width="3" height="3" fill="#0000FF"/>
<rect x="856.6" y="230.8" width="3" height="3" fill="#0000FF"/>
<rect x="872.1" y="229.7" width="3" height="3" fill="#0000FF"/>
<rect x="894.1" y="197.3" width="3" height="3" fill="#0000FF"/>
<rect x="887.5" y="228.7" width="3" height="3" fill="#0000FF"/>
<rect x="849.9" y="204.9" width="3" height="3" fill="#0000FF"/>
<rect x="885.8" y="197.0" width="3" height="3" fill="#0000FF"/>
<rect x="893.1" y="201.8" width="3" height="3" fill="#0000FF"/>
<rect x="888.9" y="196.4" width="3" height="3" fill="#0000FF"/>
<rect x="872.6" y="228.2" width="3" height="3" fill="#0000FF"/>
<rect x="857.3" y="201.3" width="3" height="3" fill="#0000FF"/>
<rect x="872.8" y="203.6" width="3" height="3" fill="#0000FF"/>
<rect x="848.4" y="198.0" width="3" height="3" fill="#0000FF"/>
<rect x="854.9" y="228.9" width="3" height="3" fill="#0000FF"/>
<rect x="881.8" y="227.2" width="3" height="3" fill="#0000FF"/>
<rect x="855.3" y="222.7" width="3" height="3" fill="#0000FF"/>
<rect x="876.5" y="93.8" width="3" height="3" fill="#0000FF"/>
<rect x="868.5" y="99.2" width="3" height="3" fill="#0000FF"/>
<rect x="929.8" y="103.1" width="3" height="3" fill="#0000FF"/>
<rect x="926.0" y="107.1" width="3" height="3" fill="#0000FF"/>
<rect x="931.5" y="111.5" width="3" height="3" fill="#0000FF"/>
<rect x="917.1" y="164.2" width="3" height="3" fill="#FF3300"/>
<rect x="909.4" y="153.5" width="3" height="3" fill="#FF3300"/>
<rect x="916.9" y="152.1" width="3" height="3" fill="#FF3300"/>
<rect x="903.4" y="151.5" width="3" height="3" fill="#FF3300"/>
<rect x="925.0" y="172.0" width="3" height="3" fill="#FF3300"/>
<rect x="909.1" y="153.4" width="3" height="3" fill="#FF3300"/>
<rect x="913.7" y="153.3" width="3" height="3" fill="#FF3300"/>
<rect x="919.1" y="158.0" width="3" height="3" fill="#FF3300"/>
<rect x="907.1" y="167.7" width="3" height="3" fill="#FF3300"/>
<rect x="909.6" y="160.0" width="3" height="3" fill="#FF3300"/>
<rect x="912.4" y="156.3" width="3" height="3" fill="#FF3300"/>
<rect x="914.1" y="153.7" width="3" height="3" fill="#FF3300"/>
<rect x="903.3" y="143.0" width="3" height="3" fill="#FF3300"/>
<rect x="906.2" y="153.2" width="3" height="3" fill="#FF3300"/>
<rect x="912.4" y="158.9" width="3" height="3" fill="#FF3300"/>
<rect x="915.5" y="196.5" width="3" height="3" fill="#FF3300"/>
<rect x="914.5" y="202.5" width="3" height="3" fill="#FF3300"/>
<rect x="917.0" y="199.5" width="3" height="3" fill="#FF3300"/>
<rect x="913.5" y="204.5" width="3" height="3" fill="#FF3300"/>
<rect x="853.5" y="164.5" width="3" height="3" fill="#FF3300"/>
<rect x="723.0" y="394.6" width="3" height="3" fill="#0000FF"/>
<rect x="716.9" y="387.1" width="3" height="3" fill="#0000FF"/>
<rect x="711.0" y="392.0" width="3" height="3" fill="#0000FF"/>
<rect x="722.7" y="398.3" width="3" height="3" fill="#0000FF"/>
<rect x="720.0" y="391.9" width="3" height="3" fill="#0000FF"/>
<rect x="724.7" y="393.6" width="3" height="3" fill="#0000FF"/>
<rect x="723.8" y="398.7" width="3" height="3" fill="#0000FF"/>
<rect x="721.5" y="405.3" width="3" height="3" fill="#0000FF"/>
<rect x="717.9" y="390.3" width="3" height="3" fill="#0000FF"/>
<rect x="716.9" y="386.3" width="3" height="3" fill="#0000FF"/>
<rect x="727.5" y="409.3" width="3" height="3" fill="#0000FF"/>
<rect x="720.6" y="398.6" width="3" height="3" fill="#0000FF"/>
<rect x="725.8" y="400.8" width="3" height="3" fill="#0000FF"/>
<rect x="725.9" y="382.1" width="3" height="3" fill="#0000FF"/>
<rect x="717.6" y="397.6" width="3" height="3" fill="#0000FF"/>
<rect x="727.0" y="394.4" width="3" height="3" fill="#0000FF"/>
<rect x="716.6" y="390.3" width="3" height="3" fill="#0000FF"/>
<rect x="717.5" y="385.8" width="3" height="3" fill="#0000FF"/>
<rect x="727.3" y="387.9" width="3" height="3" fill="#0000FF"/>
<rect x="720.6" y="413.0" width="3" height="3" fill="#0000FF"/>
<rect x="725.8" y="396.5" width="3" height="3" fill="#0000FF"/>
<rect x="717.7" y="397.2" width="3" height="3" fill="#0000FF"/>
<rect x="727.8" y="399.1" width="3" height="3" fill="#0000FF"/>
<rect x="726.2" y="394.4" width="3" height="3" fill="#0000FF"/>
<rect x="722.8" y="391.7" width="3" height="3" fill="#0000FF"/>
<rect x="722.4" y="405.2" width="3" height="3" fill="#0000FF"/>
<rect x="714.1" y="392.9" width="3" height="3" fill="#0000FF"/>
<rect x="721.6" y="388.4" width="3" height="3" fill="#0000FF"/>
<rect x="719.1" y="400.6" width="3" height="3" fill="#0000FF"/>
<rect x="729.5" y="399.2" width="3" height="3" fill="#0000FF"/>
<rect x="722.0" y="379.5" width="3" height="3" fill="#0000FF"/>
<rect x="729.2" y="394.2" width="3" height="3" fill="#0000FF"/>
<rect x="720.3" y="383.4" width="3" height="3" fill="#0000FF"/>
<rect x="720.2" y="383.6" width="3" height="3" fill="#0000FF"/>
<rect x="720.8" y="397.7" width="3" height="3" fill="#0000FF"/>
<rect x="720.6" y="396.0" width="3" height="3" fill="#0000FF"/>
<rect x="716.7" y="406.4" width="3" height="3" fill="#0000FF"/>
<rect x="717.6" y="377.1" width="3" height="3" fill="#0000FF"/>
<rect x="719.7" y="386.6" width="3" height="3" fill="#0000FF"/>
<rect x="716.0" y="390.3" width="3" height="3" fill="#0000FF"/>
<rect x="721.8" y="382.9" width="3" height="3" fill="#0000FF"/>
<rect x="719.9" y="406.3" width="3" height="3" fill="#0000FF"/>
<rect x="723.6" y="392.1" width="3" height="3" fill="#0000FF"/>
<rect x="721.1" y="392.4" width="3" height="3" fill="#0000FF"/>
<rect x="720.3" y="400.1" width="3" height="3" fill="#0000FF"/>
<rect x="720.1" y="371.9" width="3" height="3" fill="#0000FF"/>
<rect x="720.4" y="385.5" width="3" height="3" fill="#0000FF"/>
<rect x="723.4" y="388.0" width="3" height="3" fill="#0000FF"/>
<rect x="721.2" y="413.1" width="3" height="3" fill="#0000FF"/>
<rect x="715.8" y="383.4" width="3" height="3" fill="#0000FF"/>
<rect x="714.1" y="371.9" width="3" height="3" fill="#0000FF"/>
<rect x="712.0" y="396.8" width="3" height="3" fill="#0000FF"/>
<rect x="717.6" y="376.7" width="3" height="3" fill="#0000FF"/>
<rect x="713.8" y="399.1" width="3" height="3" fill="#0000FF"/>
<rect x="717.0" y="390.2" width="3" height="3" fill="#0000FF"/>
<rect x="722.0" y="405.7" width="3" height="3" fill="#0000FF"/>
<rect x="729.2" y="402.8" width="3" height="3" fill="#0000FF"/>
<rect x="721.1" y="395.2" width="3" height="3" fill="#0000FF"/>
<rect x="728.6" y="406.4" width="3" height="3" fill="#0000FF"/>
<rect x="719.1" y="397.6" width="3" height="3" fill="#0000FF"/>
<rect x="714.7" y="411.4" width="3" height="3" fill="#0000FF"/>
<rect x="706.0" y="387.9" width="3" height="3" fill="#0000FF"/>
<rect x="705.6" y="384.2" width="3" height="3" fill="#0000FF"/>
<rect x="725.0" y="419.6" width="3" height="3" fill="#0000FF"/>
<rect x="698.2" y="434.2" width="3" height="3" fill="#0000FF"/>
<rect x="721.3" y="378.1" width="3" height="3" fill="#0000FF"/>
<rect x="731.8" y="424.3" width="3" height="3" fill="#0000FF"/>
<rect x="734.2" y="389.6" width="3" height="3" fill="#0000FF"/>
<rect x="717.3" y="417.7" width="3" height="3" fill="#0000FF"/>
<rect x="713.7" y="413.4" width="3" height="3" fill="#0000FF"/>
<rect x="723.1" y="385.1" width="3" height="3" fill="#0000FF"/>
<rect x="697.8" y="386.8" width="3" height="3" fill="#0000FF"/>
<rect x="705.4" y="400.2" width="3" height="3" fill="#0000FF"/>
<rect x="715.5" y="415.0" width="3" height="3" fill="#0000FF"/>
<rect x="711.8" y="399.0" width="3" height="3" fill="#0000FF"/>
<rect x="706.6" y="426.7" width="3" height="3" fill="#0000FF"/>
<rect x="719.9" y="412.2" width="3" height="3" fill="#0000FF"/>
<rect x="708.0" y="436.9" width="3" height="3" fill="#0000FF"/>
<rect x="705.0" y="421.5" width="3" height="3" fill="#0000FF"/>
<rect x="724.2" y="406.0" width="3" height="3" fill="#0000FF"/>
<rect x="720.6" y="391.5" width="3" height="3" fill="#0000FF"/>
<rect x="722.6" y="413.9" width="3" height="3" fill="#0000FF"/>
<rect x="694.0" y="421.9" width="3" height="3" fill="#0000FF"/>
<rect x="701.7" y="432.3" width="3" height="3" fill="#0000FF"/>
<rect x="704.0" y="407.7" width="3" height="3" fill="#0000FF"/>
<rect x="714.6" y="404.8" width="3" height="3" fill="#0000FF"/>
<rect x="714.4" y="401.1" width="3" height="3" fill="#0000FF"/>
<rect x="718.9" y="410.6" width="3" height="3" fill="#0000FF"/>
<rect x="724.3" y="411.0" width="3" height="3" fill="#0000FF"/>
<rect x="691.9" y="412.1" width="3" height="3" fill="#0000FF"/>
<rect x="716.6" y="428.7" width="3" height="3" fill="#0000FF"/>
<rect x="699.6" y="436.8" width="3" height="3" fill="#0000FF"/>
<rect x="709.7" y="451.2" width="3" height="3" fill="#0000FF"/>
<rect x="709.9" y="422.1" width="3" height="3" fill="#0000FF"/>
<rect x="707.5" y="391.5" width="3" height="3" fill="#0000FF"/>
<rect x="723.6" y="425.9" width="3" height="3" fill="#0000FF"/>
<rect x="728.4" y="425.1" width="3" height="3" fill="#0000FF"/>
<rect x="705.2" y="382.2" width="3" height="3" fill="#0000FF"/>
<rect x="704.3" y="399.0" width="3" height="3" fill="#0000FF"/>
<rect x="702.5" y="420.4" width="3" height="3" fill="#0000FF"/>
<rect x="715.1" y="405.9" width="3" height="3" fill="#0000FF"/>
<rect x="713.4" y="408.0" width="3" height="3" fill="#0000FF"/>
<rect x="713.8" y="423.3" width="3" height="3" fill="#0000FF"/>
<rect x="722.1" y="398.8" width="3" height="3" fill="#0000FF"/>
<rect x="694.9" y="434.8" width="3" height="3" fill="#0000FF"/>
<rect x="712.8" y="429.3" width="3" height="3" fill="#0000FF"/>
<rect x="693.4" y="404.9" width="3" height="3" fill="#0000FF"/>
<rect x="711.8" y="386.0" width="3" height="3" fill="#0000FF"/>
<rect x="705.8" y="422.8" width="3" height="3" fill="#0000FF"/>
<rect x="723.4" y="437.6" width="3" height="3" fill="#0000FF"/>
<rect x="702.0" y="386.7" width="3" height="3" fill="#0000FF"/>
<rect x="717.2" y="426.5" width="3" height="3" fill="#0000FF"/>
<rect x="713.6" y="388.4" width="3" height="3" fill="#0000FF"/>
<rect x="720.1" y="424.0" width="3" height="3" fill="#0000FF"/>
<rect x="717.6" y="402.2" width="3" height="3" fill="#0000FF"/>
<rect x="714.8" y="423.9" width="3" height="3" fill="#0000FF"/>
<rect x="705.4" y="379.2" width="3" height="3" fill="#0000FF"/>
<rect x="715.1" y="418.7" width="3" height="3" fill="#0000FF"/>
<rect x="711.6" y="425.6" width="3" height="3" fill="#0000FF"/>
<rect x="653.2" y="377.3" width="3" height="3" fill="#0000FF"/>
<rect x="654.7" y="383.7" width="3" height="3" fill="#0000FF"/>
<rect x="644.3" y="386.2" width="3" height="3" fill="#0000FF"/>
<rect x="636.9" y="389.1" width="3" height="3" fill="#0000FF"/>
<rect x="665.6" y="386.6" width="3" height="3" fill="#0000FF"/>
<rect x="664.6" y="391.1" width="3" height="3" fill="#0000FF"/>
<rect x="652.2" y="392.1" width="3" height="3" fill="#0000FF"/>
<rect x="650.2" y="397.5" width="3" height="3" fill="#0000FF"/>
<rect x="660.1" y="396.0" width="3" height="3" fill="#0000FF"/>
<rect x="655.2" y="400.0" width="3" height="3" fill="#0000FF"/>
<rect x="646.8" y="401.5" width="3" height="3" fill="#0000FF"/>
<rect x="644.8" y="404.5" width="3" height="3" fill="#0000FF"/>
<rect x="647.8" y="404.9" width="3" height="3" fill="#0000FF"/>
<rect x="650.7" y="404.9" width="3" height="3" fill="#0000FF"/>
<rect x="659.6" y="405.9" width="3" height="3" fill="#0000FF"/>
<rect x="661.6" y="408.9" width="3" height="3" fill="#0000FF"/>
<rect x="670.5" y="407.9" width="3" height="3" fill="#0000FF"/>
<rect x="673.5" y="406.9" width="3" height="3" fill="#0000FF"/>
<rect x="644.3" y="411.3" width="3" height="3" fill="#0000FF"/>
<rect x="645.8" y="416.8" width="3" height="3" fill="#0000FF"/>
<rect x="650.7" y="418.8" width="3" height="3" fill="#0000FF"/>
<rect x="653.7" y="419.7" width="3" height="3" fill="#0000FF"/>
<rect x="656.7" y="419.7" width="3" height="3" fill="#0000FF"/>
<rect x="663.6" y="416.3" width="3" height="3" fill="#0000FF"/>
<rect x="638.9" y="427.7" width="3" height="3" fill="#0000FF"/>
<rect x="658.2" y="433.1" width="3" height="3" fill="#0000FF"/>
<rect x="733.1" y="455.4" width="3" height="3" fill="#0000FF"/>
<rect x="714.0" y="463.9" width="3" height="3" fill="#0000FF"/>
<rect x="680.5" y="392.5" width="3" height="3" fill="#0000FF"/>
<rect x="685.5" y="387.5" width="3" height="3" fill="#0000FF"/>
<rect x="690.5" y="398.5" width="3" height="3" fill="#0000FF"/>
<rect x="684.5" y="381.5" width="3" height="3" fill="#0000FF"/>
<rect x="710.5" y="382.7" width="3" height="3" fill="#FF3300"/>
<rect x="693.5" y="397.7" width="3" height="3" fill="#FF3300"/>
<rect x="712.5" y="400.0" width="3" height="3" fill="#FF3300"/>
<rect x="717.5" y="402.6" width="3" height="3" fill="#FF3300"/>
<rect x="720.5" y="423.9" width="3" height="3" fill="#FF3300"/>
<rect x="917.3" y="399.8" width="3" height="3" fill="#0000FF"/>
<rect x="918.8" y="405.1" width="3" height="3" fill="#0000FF"/>
<rect x="929.3" y="398.5" width="3" height="3" fill="#0000FF"/>
<rect x="931.8" y="412.7" width="3" height="3" fill="#0000FF"/>
<rect x="924.8" y="405.2" width="3" height="3" fill="#0000FF"/>
<rect x="930.2" y="399.1" width="3" height="3" fill="#0000FF"/>
<rect x="919.9" y="392.0" width="3" height="3" fill="#0000FF"/>
<rect x="923.1" y="411.3" width="3" height="3" fill="#0000FF"/>
<rect x="923.4" y="403.9" width="3" height="3" fill="#0000FF"/>
<rect x="919.4" y="401.9" width="3" height="3" fill="#0000FF"/>
<rect x="912.7" y="408.9" width="3" height="3" fill="#0000FF"/>
<rect x="918.2" y="391.7" width="3" height="3" fill="#0000FF"/>
<rect x="916.4" y="393.9" width="3" height="3" fill="#0000FF"/>
<rect x="925.2" y="409.0" width="3" height="3" fill="#0000FF"/>
<rect x="913.0" y="407.9" width="3" height="3" fill="#0000FF"/>
<rect x="925.4" y="395.9" width="3" height="3" fill="#0000FF"/>
<rect x="912.3" y="394.5" width="3" height="3" fill="#0000FF"/>
<rect x="917.0" y="403.2" width="3" height="3" fill="#0000FF"/>
<rect x="918.5" y="384.3" width="3" height="3" fill="#0000FF"/>
<rect x="921.8" y="388.2" width="3" height="3" fill="#0000FF"/>
<rect x="925.5" y="390.8" width="3" height="3" fill="#0000FF"/>
<rect x="916.7" y="393.7" width="3" height="3" fill="#0000FF"/>
<rect x="917.5" y="410.9" width="3" height="3" fill="#0000FF"/>
<rect x="925.2" y="405.3" width="3" height="3" fill="#0000FF"/>
<rect x="922.3" y="388.1" width="3" height="3" fill="#0000FF"/>
<rect x="917.6" y="396.1" width="3" height="3" fill="#0000FF"/>
<rect x="915.1" y="404.6" width="3" height="3" fill="#0000FF"/>
<rect x="916.4" y="394.8" width="3" height="3" fill="#0000FF"/>
<rect x="914.8" y="384.0" width="3" height="3" fill="#0000FF"/>
<rect x="923.8" y="411.1" width="3" height="3" fill="#0000FF"/>
<rect x="921.5" y="392.7" width="3" height="3" fill="#0000FF"/>
<rect x="905.6" y="401.9" width="3" height="3" fill="#0000FF"/>
<rect x="927.2" y="402.9" width="3" height="3" fill="#0000FF"/>
<rect x="925.6" y="412.3" width="3" height="3" fill="#0000FF"/>
<rect x="926.7" y="397.0" width="3" height="3" fill="#0000FF"/>
<rect x="926.3" y="406.7" width="3" height="3" fill="#0000FF"/>
<rect x="912.0" y="397.3" width="3" height="3" fill="#0000FF"/>
<rect x="912.7" y="399.6" width="3" height="3" fill="#0000FF"/>
<rect x="923.7" y="392.0" width="3" height="3" fill="#0000FF"/>
<rect x="909.2" y="410.9" width="3" height="3" fill="#0000FF"/>
<rect x="922.6" y="412.3" width="3" height="3" fill="#0000FF"/>
<rect x="913.2" y="409.0" width="3" height="3" fill="#0000FF"/>
<rect x="931.9" y="416.6" width="3" height="3" fill="#0000FF"/>
<rect x="919.3" y="402.7" width="3" height="3" fill="#0000FF"/>
<rect x="919.7" y="408.5" width="3" height="3" fill="#0000FF"/>
<rect x="926.2" y="401.2" width="3" height="3" fill="#0000FF"/>
<rect x="913.0" y="406.4" width="3" height="3" fill="#0000FF"/>
<rect x="917.9" y="405.5" width="3" height="3" fill="#0000FF"/>
<rect x="921.9" y="413.5" width="3" height="3" fill="#0000FF"/>
<rect x="926.8" y="396.9" width="3" height="3" fill="#0000FF"/>
<rect x="922.4" y="414.6" width="3" height="3" fill="#0000FF"/>
<rect x="917.5" y="404.0" width="3" height="3" fill="#0000FF"/>
<rect x="927.0" y="410.6" width="3" height="3" fill="#0000FF"/>
<rect x="923.4" y="389.9" width="3" height="3" fill="#0000FF"/>
<rect x="913.6" y="402.5" width="3" height="3" fill="#0000FF"/>
<rect x="915.8" y="409.6" width="3" height="3" fill="#0000FF"/>
<rect x="924.7" y="387.1" width="3" height="3" fill="#0000FF"/>
<rect x="916.0" y="401.8" width="3" height="3" fill="#0000FF"/>
<rect x="917.8" y="399.3" width="3" height="3" fill="#0000FF"/>
<rect x="912.8" y="390.4" width="3" height="3" fill="#0000FF"/>
<rect x="912.8" y="392.1" width="3" height="3" fill="#0000FF"/>
<rect x="905.7" y="403.9" width="3" height="3" fill="#0000FF"/>
<rect x="905.5" y="401.4" width="3" height="3" fill="#0000FF"/>
<rect x="920.7" y="398.8" width="3" height="3" fill="#0000FF"/>
<rect x="908.5" y="405.9" width="3" height="3" fill="#0000FF"/>
<rect x="906.9" y="409.3" width="3" height="3" fill="#0000FF"/>
<rect x="900.5" y="404.7" width="3" height="3" fill="#0000FF"/>
<rect x="905.9" y="390.5" width="3" height="3" fill="#0000FF"/>
<rect x="921.9" y="390.0" width="3" height="3" fill="#0000FF"/>
<rect x="921.8" y="405.1" width="3" height="3" fill="#0000FF"/>
<rect x="919.7" y="388.7" width="3" height="3" fill="#0000FF"/>
<rect x="917.9" y="413.1" width="3" height="3" fill="#0000FF"/>
<rect x="908.7" y="397.2" width="3" height="3" fill="#0000FF"/>
<rect x="926.7" y="400.3" width="3" height="3" fill="#0000FF"/>
<rect x="906.5" y="392.2" width="3" height="3" fill="#0000FF"/>
<rect x="912.6" y="401.8" width="3" height="3" fill="#0000FF"/>
<rect x="910.7" y="415.7" width="3" height="3" fill="#0000FF"/>
<rect x="907.2" y="403.2" width="3" height="3" fill="#0000FF"/>
<rect x="919.7" y="388.5" width="3" height="3" fill="#0000FF"/>
<rect x="916.8" y="416.8" width="3" height="3" fill="#0000FF"/>
<rect x="900.0" y="387.5" width="3" height="3" fill="#0000FF"/>
<rect x="905.2" y="423.2" width="3" height="3" fill="#0000FF"/>
<rect x="915.7" y="423.1" width="3" height="3" fill="#0000FF"/>
<rect x="916.0" y="459.5" width="3" height="3" fill="#0000FF"/>
<rect x="901.2" y="440.0" width="3" height="3" fill="#0000FF"/>
<rect x="899.1" y="452.1" width="3" height="3" fill="#0000FF"/>
<rect x="907.3" y="440.6" width="3" height="3" fill="#0000FF"/>
<rect x="912.9" y="449.5" width="3" height="3" fill="#0000FF"/>
<rect x="910.1" y="443.7" width="3" height="3" fill="#0000FF"/>
<rect x="908.7" y="444.8" width="3" height="3" fill="#0000FF"/>
<rect x="904.3" y="444.2" width="3" height="3" fill="#0000FF"/>
<rect x="899.0" y="438.1" width="3" height="3" fill="#0000FF"/>
<rect x="925.9" y="444.4" width="3" height="3" fill="#0000FF"/>
<rect x="903.7" y="446.3" width="3" height="3" fill="#0000FF"/>
<rect x="905.7" y="425.3" width="3" height="3" fill="#0000FF"/>
<rect x="907.3" y="451.6" width="3" height="3" fill="#0000FF"/>
<rect x="915.2" y="442.4" width="3" height="3" fill="#0000FF"/>
<rect x="906.0" y="431.6" width="3" height="3" fill="#0000FF"/>
<rect x="921.9" y="446.2" width="3" height="3" fill="#0000FF"/>
<rect x="904.5" y="442.7" width="3" height="3" fill="#0000FF"/>
<rect x="914.0" y="441.8" width="3" height="3" fill="#0000FF"/>
<rect x="910.6" y="428.4" width="3" height="3" fill="#0000FF"/>
<rect x="905.1" y="462.1" width="3" height="3" fill="#0000FF"/>
<rect x="907.2" y="452.8" width="3" height="3" fill="#0000FF"/>
<rect x="900.6" y="440.5" width="3" height="3" fill="#0000FF"/>
<rect x="914.3" y="454.9" width="3" height="3" fill="#0000FF"/>
<rect x="904.6" y="450.0" width="3" height="3" fill="#0000FF"/>
<rect x="915.2" y="435.4" width="3" height="3" fill="#0000FF"/>
<rect x="915.8" y="433.6" width="3" height="3" fill="#0000FF"/>
<rect x="906.9" y="443.3" width="3" height="3" fill="#0000FF"/>
<rect x="905.5" y="427.4" width="3" height="3" fill="#0000FF"/>
<rect x="909.5" y="451.9" width="3" height="3" fill="#0000FF"/>
<rect x="909.7" y="457.4" width="3" height="3" fill="#0000FF"/>
<rect x="904.4" y="429.1" width="3" height="3" fill="#0000FF"/>
<rect x="923.4" y="447.9" width="3" height="3" fill="#0000FF"/>
<rect x="919.1" y="434.4" width="3" height="3" fill="#0000FF"/>
<rect x="918.1" y="446.4" width="3" height="3" fill="#0000FF"/>
<rect x="917.0" y="443.8" width="3" height="3" fill="#0000FF"/>
<rect x="920.9" y="436.4" width="3" height="3" fill="#0000FF"/>
<rect x="905.8" y="427.2" width="3" height="3" fill="#0000FF"/>
<rect x="887.3" y="399.5" width="3" height="3" fill="#0000FF"/>
<rect x="886.8" y="412.8" width="3" height="3" fill="#0000FF"/>
<rect x="884.8" y="419.7" width="3" height="3" fill="#0000FF"/>
<rect x="894.2" y="415.3" width="3" height="3" fill="#0000FF"/>
<rect x="894.7" y="425.2" width="3" height="3" fill="#0000FF"/>
<rect x="886.3" y="433.1" width="3" height="3" fill="#0000FF"/>
<rect x="883.4" y="452.4" width="3" height="3" fill="#0000FF"/>
<rect x="896.2" y="388.1" width="3" height="3" fill="#0000FF"/>
<rect x="894.2" y="393.6" width="3" height="3" fill="#0000FF"/>
<rect x="906.1" y="370.8" width="3" height="3" fill="#0000FF"/>
<rect x="927.3" y="348.6" width="3" height="3" fill="#0000FF"/>
<rect x="962.9" y="401.5" width="3" height="3" fill="#0000FF"/>
<rect x="911.5" y="473.1" width="3" height="3" fill="#0000FF"/>
<rect x="861.1" y="383.7" width="3" height="3" fill="#0000FF"/>
<rect x="868.5" y="383.2" width="3" height="3" fill="#0000FF"/>
<rect x="848.3" y="393.1" width="3" height="3" fill="#0000FF"/>
<rect x="843.8" y="406.4" width="3" height="3" fill="#0000FF"/>
<rect x="847.8" y="404.9" width="3" height="3" fill="#0000FF"/>
<rect x="852.7" y="404.4" width="3" height="3" fill="#0000FF"/>
<rect x="849.8" y="407.9" width="3" height="3" fill="#0000FF"/>
<rect x="851.7" y="410.4" width="3" height="3" fill="#0000FF"/>
<rect x="854.2" y="412.8" width="3" height="3" fill="#0000FF"/>
<rect x="860.6" y="403.0" width="3" height="3" fill="#0000FF"/>
<rect x="862.6" y="406.4" width="3" height="3" fill="#0000FF"/>
<rect x="870.0" y="408.9" width="3" height="3" fill="#0000FF"/>
<rect x="871.5" y="414.3" width="3" height="3" fill="#0000FF"/>
<rect x="849.3" y="426.2" width="3" height="3" fill="#0000FF"/>
<rect x="849.8" y="451.9" width="3" height="3" fill="#0000FF"/>
<rect x="914.9" y="404.8" width="3.2" height="3.2" fill="#FF3300"/>
<rect x="917.8" y="410.8" width="3.2" height="3.2" fill="#FF3300"/>
<rect x="620.7" y="108.0" width="58.3" height="82.3" fill="none" stroke="#FF0000" stroke-width="3"/>
<rect x="822.5" y="108.0" width="56.6" height="82.3" fill="none" stroke="#FF0000" stroke-width="3"/>
<rect x="620.7" y="348.8" width="58.3" height="83.2" fill="none" stroke="#FF0000" stroke-width="3"/>
<rect x="821.8" y="349.5" width="58.5" height="82.5" fill="none" stroke="#FF0000" stroke-width="3"/>
<line x1="880.60" y1="109.00" x2="880.60" y2="190.50" stroke="#000" stroke-width="1.2" stroke-linecap="butt"/>
<text x="593.87" y="93.10" font-size="18.57" fill="#000">LSK gated</text>
<text x="625.66" y="225.70" font-size="24.77" fill="#000">HSC</text>
<text x="621.39" y="256.70" font-size="25.17" fill="#000">0.000</text>
<text x="825.59" y="255.60" font-size="25.17" fill="#000">0.008</text>
<text x="617.79" y="498.00" font-size="25.17" fill="#000">0.006</text>
<text x="824.39" y="500.50" font-size="25.17" fill="#000">0.005</text>
<polygon points="564.60,138.50 572.10,152.90 566.40,152.90 566.40,408.50 562.80,408.50 562.80,152.90 557.10,152.90" fill="#000"/>
<text x="0" y="0" font-size="25.0" transform="translate(573.99,500.76) rotate(-90)">CD150</text>
<text x="582.94" y="555.40" font-size="25.17" fill="#000">CD48</text>
<polygon points="655.8,545.2 975,545.2 975,539.8 990.2,547 975,554.2 975,548.8 655.8,548.8" fill="#000"/>
<line x1="1096.00" y1="137.25" x2="1096.00" y2="429.50" stroke="#000" stroke-width="3" stroke-linecap="butt"/>
<line x1="1088.00" y1="428.00" x2="1096.00" y2="428.00" stroke="#000" stroke-width="3" stroke-linecap="butt"/>
<text x="1054.21" y="435.32" font-size="21.62" font-weight="bold" fill="#000">0.0</text>
<line x1="1088.00" y1="370.15" x2="1096.00" y2="370.15" stroke="#000" stroke-width="3" stroke-linecap="butt"/>
<text x="1053.94" y="377.47" font-size="21.62" font-weight="bold" fill="#000">0.5</text>
<line x1="1088.00" y1="312.30" x2="1096.00" y2="312.30" stroke="#000" stroke-width="3" stroke-linecap="butt"/>
<text x="1054.21" y="319.62" font-size="21.62" font-weight="bold" fill="#000">1.0</text>
<line x1="1088.00" y1="254.45" x2="1096.00" y2="254.45" stroke="#000" stroke-width="3" stroke-linecap="butt"/>
<text x="1053.94" y="261.67" font-size="21.62" font-weight="bold" fill="#000">1.5</text>
<line x1="1088.00" y1="196.60" x2="1096.00" y2="196.60" stroke="#000" stroke-width="3" stroke-linecap="butt"/>
<text x="1054.21" y="203.92" font-size="21.62" font-weight="bold" fill="#000">2.0</text>
<line x1="1088.00" y1="138.75" x2="1096.00" y2="138.75" stroke="#000" stroke-width="3" stroke-linecap="butt"/>
<text x="1053.94" y="146.07" font-size="21.62" font-weight="bold" fill="#000">2.5</text>
<line x1="1094.50" y1="428.00" x2="1453.00" y2="428.00" stroke="#000" stroke-width="3" stroke-linecap="butt"/>
<line x1="1140.50" y1="428.00" x2="1140.50" y2="437.00" stroke="#000" stroke-width="3" stroke-linecap="butt"/>
<line x1="1229.20" y1="428.00" x2="1229.20" y2="437.00" stroke="#000" stroke-width="3" stroke-linecap="butt"/>
<line x1="1317.60" y1="428.00" x2="1317.60" y2="437.00" stroke="#000" stroke-width="3" stroke-linecap="butt"/>
<line x1="1406.70" y1="428.00" x2="1406.70" y2="437.00" stroke="#000" stroke-width="3" stroke-linecap="butt"/>
<text x="0" y="0" font-size="25.5" font-weight="bold" transform="translate(1024.90,391.07) rotate(-90)">PB HSCs (x10<tspan dy="-7.91" font-size="17.34">3</tspan><tspan dy="7.91">/ml)</tspan></text>
<circle cx="1117.90" cy="418.30" r="7.20" fill="#fff" stroke="#000" stroke-width="3"/>
<circle cx="1162.30" cy="417.60" r="7.20" fill="#fff" stroke="#000" stroke-width="3"/>
<circle cx="1123.50" cy="425.00" r="7.20" fill="#fff" stroke="#000" stroke-width="3"/>
<circle cx="1157.00" cy="424.50" r="7.20" fill="#fff" stroke="#000" stroke-width="3"/>
<circle cx="1127.00" cy="428.80" r="7.20" fill="#000" stroke="#000" stroke-width="3"/>
<circle cx="1131.50" cy="428.80" r="7.20" fill="#000" stroke="#000" stroke-width="3"/>
<circle cx="1136.00" cy="428.80" r="7.20" fill="#000" stroke="#000" stroke-width="3"/>
<circle cx="1140.50" cy="428.80" r="7.20" fill="#000" stroke="#000" stroke-width="3"/>
<circle cx="1145.00" cy="428.80" r="7.20" fill="#000" stroke="#000" stroke-width="3"/>
<circle cx="1149.50" cy="428.80" r="7.20" fill="#000" stroke="#000" stroke-width="3"/>
<circle cx="1154.00" cy="428.80" r="7.20" fill="#000" stroke="#000" stroke-width="3"/>
<circle cx="1206.80" cy="211.90" r="7.20" fill="#FF0000" stroke="#000" stroke-width="3"/>
<circle cx="1217.50" cy="221.10" r="7.20" fill="#FF0000" stroke="#000" stroke-width="3"/>
<circle cx="1229.20" cy="230.20" r="7.20" fill="#FF0000" stroke="#000" stroke-width="3"/>
<circle cx="1239.90" cy="229.50" r="7.20" fill="#FF0000" stroke="#000" stroke-width="3"/>
<circle cx="1252.00" cy="212.60" r="7.20" fill="#FF0000" stroke="#000" stroke-width="3"/>
<circle cx="1206.80" cy="243.90" r="7.20" fill="#FF0000" stroke="#000" stroke-width="3"/>
<circle cx="1252.00" cy="251.50" r="7.20" fill="#FF0000" stroke="#000" stroke-width="3"/>
<circle cx="1228.50" cy="265.60" r="7.20" fill="#FF0000" stroke="#000" stroke-width="3"/>
<circle cx="1229.20" cy="341.20" r="7.20" fill="#FF0000" stroke="#000" stroke-width="3"/>
<circle cx="1229.20" cy="366.80" r="7.20" fill="#FF0000" stroke="#000" stroke-width="3"/>
<circle cx="1318.30" cy="307.40" r="7.20" fill="#0000FF" stroke="#000" stroke-width="3"/>
<circle cx="1332.40" cy="323.90" r="7.20" fill="#0000FF" stroke="#000" stroke-width="3"/>
<circle cx="1303.20" cy="333.00" r="7.20" fill="#0000FF" stroke="#000" stroke-width="3"/>
<circle cx="1303.90" cy="366.80" r="7.20" fill="#0000FF" stroke="#000" stroke-width="3"/>
<circle cx="1295.90" cy="370.70" r="7.20" fill="#0000FF" stroke="#000" stroke-width="3"/>
<circle cx="1332.40" cy="362.20" r="7.20" fill="#0000FF" stroke="#000" stroke-width="3"/>
<circle cx="1341.10" cy="373.00" r="7.20" fill="#0000FF" stroke="#000" stroke-width="3"/>
<circle cx="1306.10" cy="379.40" r="7.20" fill="#0000FF" stroke="#000" stroke-width="3"/>
<circle cx="1329.00" cy="382.80" r="7.20" fill="#0000FF" stroke="#000" stroke-width="3"/>
<circle cx="1318.30" cy="389.70" r="7.20" fill="#0000FF" stroke="#000" stroke-width="3"/>
<circle cx="1392.30" cy="335.30" r="7.20" fill="#00C000" stroke="#000" stroke-width="3"/>
<circle cx="1384.50" cy="345.10" r="7.20" fill="#00C000" stroke="#000" stroke-width="3"/>
<circle cx="1421.50" cy="329.10" r="7.20" fill="#00C000" stroke="#000" stroke-width="3"/>
<circle cx="1407.40" cy="361.10" r="7.20" fill="#00C000" stroke="#000" stroke-width="3"/>
<circle cx="1429.50" cy="357.70" r="7.20" fill="#00C000" stroke="#000" stroke-width="3"/>
<circle cx="1421.10" cy="371.40" r="7.20" fill="#00C000" stroke="#000" stroke-width="3"/>
<circle cx="1392.30" cy="382.80" r="7.20" fill="#00C000" stroke="#000" stroke-width="3"/>
<circle cx="1384.50" cy="393.10" r="7.20" fill="#00C000" stroke="#000" stroke-width="3"/>
<circle cx="1429.50" cy="397.70" r="7.20" fill="#00C000" stroke="#000" stroke-width="3"/>
<circle cx="1407.40" cy="404.50" r="7.20" fill="#00C000" stroke="#000" stroke-width="3"/>
<line x1="1229.00" y1="240.50" x2="1229.00" y2="274.30" stroke="#000" stroke-width="3" stroke-linecap="butt"/>
<line x1="1214.70" y1="240.50" x2="1243.30" y2="240.50" stroke="#000" stroke-width="3" stroke-linecap="butt"/>
<line x1="1214.70" y1="274.30" x2="1243.30" y2="274.30" stroke="#000" stroke-width="3" stroke-linecap="butt"/>
<line x1="1199.80" y1="257.00" x2="1258.20" y2="257.00" stroke="#000" stroke-width="3" stroke-linecap="butt"/>
<line x1="1318.00" y1="349.70" x2="1318.00" y2="366.80" stroke="#000" stroke-width="3" stroke-linecap="butt"/>
<line x1="1302.90" y1="349.70" x2="1333.10" y2="349.70" stroke="#000" stroke-width="3" stroke-linecap="butt"/>
<line x1="1302.90" y1="366.80" x2="1333.10" y2="366.80" stroke="#000" stroke-width="3" stroke-linecap="butt"/>
<line x1="1288.30" y1="358.40" x2="1347.70" y2="358.40" stroke="#000" stroke-width="3" stroke-linecap="butt"/>
<line x1="1407.20" y1="358.80" x2="1407.20" y2="376.00" stroke="#000" stroke-width="3" stroke-linecap="butt"/>
<line x1="1392.90" y1="358.80" x2="1421.50" y2="358.80" stroke="#000" stroke-width="3" stroke-linecap="butt"/>
<line x1="1392.90" y1="376.00" x2="1421.50" y2="376.00" stroke="#000" stroke-width="3" stroke-linecap="butt"/>
<line x1="1377.70" y1="368.00" x2="1436.70" y2="368.00" stroke="#000" stroke-width="3" stroke-linecap="butt"/>
<line x1="1148.00" y1="96.60" x2="1399.40" y2="96.60" stroke="#000" stroke-width="3" stroke-linecap="butt"/>
<text x="1260.35" y="96.81" font-size="20.5" fill="#000">*</text>
<text x="1270.85" y="96.81" font-size="20.5" fill="#000">*</text>
<line x1="1148.00" y1="126.50" x2="1318.00" y2="126.50" stroke="#000" stroke-width="3" stroke-linecap="butt"/>
<text x="1217.40" y="124.41" font-size="20.5" fill="#000">*</text>
<text x="1227.90" y="124.41" font-size="20.5" fill="#000">*</text>
<text x="1238.40" y="124.41" font-size="20.5" fill="#000">*</text>
<line x1="1148.00" y1="154.80" x2="1229.60" y2="154.80" stroke="#000" stroke-width="3" stroke-linecap="butt"/>
<text x="1172.50" y="152.11" font-size="20.5" fill="#000">*</text>
<text x="1183.00" y="152.11" font-size="20.5" fill="#000">*</text>
<text x="1193.50" y="152.11" font-size="20.5" fill="#000">*</text>
<line x1="1236.50" y1="154.10" x2="1410.00" y2="154.10" stroke="#000" stroke-width="3" stroke-linecap="butt"/>
<text x="1306.00" y="153.91" font-size="20.5" fill="#000">*</text>
<text x="1316.50" y="153.91" font-size="20.5" fill="#000">*</text>
<text x="1327.00" y="153.91" font-size="20.5" fill="#000">*</text>
<line x1="1236.50" y1="188.00" x2="1313.50" y2="188.00" stroke="#000" stroke-width="3" stroke-linecap="butt"/>
<text x="1260.80" y="185.91" font-size="20.5" fill="#000">*</text>
<text x="1271.30" y="185.91" font-size="20.5" fill="#000">*</text>
<text x="1281.80" y="185.91" font-size="20.5" fill="#000">*</text>
<line x1="1334.20" y1="188.00" x2="1411.70" y2="188.00" stroke="#000" stroke-width="3" stroke-linecap="butt"/>
<text x="1360.44" y="179.70" font-size="21.62" fill="#000">ns</text>
<text font-size="25.3" font-weight="bold" transform="translate(1153.50,476.00) rotate(-36)"><tspan x="-88.17" y="0.00">Control</tspan></text>
<text font-size="25.3" font-weight="bold" transform="translate(1241.20,471.60) rotate(-36)"><tspan x="-137.06" y="0.00">rhIL-7-hyFc</tspan></text>
<text font-size="25.3" font-weight="bold" transform="translate(1333.20,479.30) rotate(-36)"><tspan x="-164.96" y="0.00">PEG-rhG-CSF</tspan></text>
<text font-size="25.3" font-weight="bold" transform="translate(1412.30,477.70) rotate(-36)"><tspan x="-103.10" y="0.00">rhG-CSF</tspan></text>
<line x1="1577.80" y1="137.50" x2="1577.80" y2="430.10" stroke="#000" stroke-width="3" stroke-linecap="butt"/>
<line x1="1569.80" y1="428.60" x2="1577.80" y2="428.60" stroke="#000" stroke-width="3" stroke-linecap="butt"/>
<text x="1553.61" y="436.03" font-size="21.92" font-weight="bold" fill="#000">0</text>
<line x1="1569.80" y1="356.20" x2="1577.80" y2="356.20" stroke="#000" stroke-width="3" stroke-linecap="butt"/>
<text x="1517.05" y="363.63" font-size="21.92" font-weight="bold" fill="#000">2000</text>
<line x1="1569.80" y1="283.80" x2="1577.80" y2="283.80" stroke="#000" stroke-width="3" stroke-linecap="butt"/>
<text x="1517.05" y="291.23" font-size="21.92" font-weight="bold" fill="#000">4000</text>
<line x1="1569.80" y1="211.40" x2="1577.80" y2="211.40" stroke="#000" stroke-width="3" stroke-linecap="butt"/>
<text x="1517.05" y="218.83" font-size="21.92" font-weight="bold" fill="#000">6000</text>
<line x1="1569.80" y1="139.00" x2="1577.80" y2="139.00" stroke="#000" stroke-width="3" stroke-linecap="butt"/>
<text x="1517.05" y="146.43" font-size="21.92" font-weight="bold" fill="#000">8000</text>
<line x1="1576.30" y1="428.60" x2="1934.50" y2="428.60" stroke="#000" stroke-width="3" stroke-linecap="butt"/>
<line x1="1621.00" y1="428.60" x2="1621.00" y2="437.60" stroke="#000" stroke-width="3" stroke-linecap="butt"/>
<line x1="1710.40" y1="428.60" x2="1710.40" y2="437.60" stroke="#000" stroke-width="3" stroke-linecap="butt"/>
<line x1="1799.30" y1="428.60" x2="1799.30" y2="437.60" stroke="#000" stroke-width="3" stroke-linecap="butt"/>
<line x1="1888.60" y1="428.60" x2="1888.60" y2="437.60" stroke="#000" stroke-width="3" stroke-linecap="butt"/>
<text x="0" y="0" font-size="25.4" font-weight="bold" transform="translate(1496.77,401.57) rotate(-90)">CFU-GM in PB (/ml)</text>
<circle cx="1599.10" cy="421.60" r="7.20" fill="#fff" stroke="#000" stroke-width="3"/>
<circle cx="1645.20" cy="422.40" r="7.20" fill="#fff" stroke="#000" stroke-width="3"/>
<circle cx="1606.00" cy="425.50" r="7.20" fill="#fff" stroke="#000" stroke-width="3"/>
<circle cx="1639.00" cy="425.50" r="7.20" fill="#fff" stroke="#000" stroke-width="3"/>
<circle cx="1609.00" cy="429.00" r="7.20" fill="#000" stroke="#000" stroke-width="3"/>
<circle cx="1614.00" cy="429.00" r="7.20" fill="#000" stroke="#000" stroke-width="3"/>
<circle cx="1619.00" cy="429.00" r="7.20" fill="#000" stroke="#000" stroke-width="3"/>
<circle cx="1624.00" cy="429.00" r="7.20" fill="#000" stroke="#000" stroke-width="3"/>
<circle cx="1629.00" cy="429.00" r="7.20" fill="#000" stroke="#000" stroke-width="3"/>
<circle cx="1634.00" cy="429.00" r="7.20" fill="#000" stroke="#000" stroke-width="3"/>
<circle cx="1638.00" cy="429.00" r="7.20" fill="#000" stroke="#000" stroke-width="3"/>
<circle cx="1710.40" cy="169.20" r="7.20" fill="#FF0000" stroke="#000" stroke-width="3"/>
<circle cx="1710.40" cy="199.60" r="7.20" fill="#FF0000" stroke="#000" stroke-width="3"/>
<circle cx="1710.40" cy="295.50" r="7.20" fill="#FF0000" stroke="#000" stroke-width="3"/>
<circle cx="1688.00" cy="333.60" r="7.20" fill="#FF0000" stroke="#000" stroke-width="3"/>
<circle cx="1733.10" cy="343.10" r="7.20" fill="#FF0000" stroke="#000" stroke-width="3"/>
<circle cx="1710.40" cy="353.40" r="7.20" fill="#FF0000" stroke="#000" stroke-width="3"/>
<circle cx="1725.10" cy="369.60" r="7.20" fill="#FF0000" stroke="#000" stroke-width="3"/>
<circle cx="1696.20" cy="376.10" r="7.20" fill="#FF0000" stroke="#000" stroke-width="3"/>
<circle cx="1785.10" cy="352.60" r="7.20" fill="#0000FF" stroke="#000" stroke-width="3"/>
<circle cx="1814.20" cy="352.60" r="7.20" fill="#0000FF" stroke="#000" stroke-width="3"/>
<circle cx="1799.80" cy="371.40" r="7.20" fill="#0000FF" stroke="#000" stroke-width="3"/>
<circle cx="1822.40" cy="384.30" r="7.20" fill="#0000FF" stroke="#000" stroke-width="3"/>
<circle cx="1777.40" cy="392.00" r="7.20" fill="#0000FF" stroke="#000" stroke-width="3"/>
<circle cx="1792.30" cy="398.00" r="7.20" fill="#0000FF" stroke="#000" stroke-width="3"/>
<circle cx="1807.00" cy="395.40" r="7.20" fill="#0000FF" stroke="#000" stroke-width="3"/>
<circle cx="1866.20" cy="352.10" r="7.20" fill="#00C000" stroke="#000" stroke-width="3"/>
<circle cx="1911.30" cy="352.10" r="7.20" fill="#00C000" stroke="#000" stroke-width="3"/>
<circle cx="1895.80" cy="358.00" r="7.20" fill="#00C000" stroke="#000" stroke-width="3"/>
<circle cx="1880.90" cy="363.70" r="7.20" fill="#00C000" stroke="#000" stroke-width="3"/>
<circle cx="1866.20" cy="385.60" r="7.20" fill="#00C000" stroke="#000" stroke-width="3"/>
<circle cx="1911.30" cy="390.20" r="7.20" fill="#00C000" stroke="#000" stroke-width="3"/>
<circle cx="1888.60" cy="400.50" r="7.20" fill="#00C000" stroke="#000" stroke-width="3"/>
<line x1="1710.60" y1="277.40" x2="1710.60" y2="332.30" stroke="#000" stroke-width="3" stroke-linecap="butt"/>
<line x1="1696.00" y1="277.40" x2="1725.20" y2="277.40" stroke="#000" stroke-width="3" stroke-linecap="butt"/>
<line x1="1696.00" y1="332.30" x2="1725.20" y2="332.30" stroke="#000" stroke-width="3" stroke-linecap="butt"/>
<line x1="1680.80" y1="305.00" x2="1740.40" y2="305.00" stroke="#000" stroke-width="3" stroke-linecap="butt"/>
<line x1="1799.90" y1="370.70" x2="1799.90" y2="384.30" stroke="#000" stroke-width="3" stroke-linecap="butt"/>
<line x1="1785.30" y1="370.70" x2="1814.50" y2="370.70" stroke="#000" stroke-width="3" stroke-linecap="butt"/>
<line x1="1785.30" y1="384.30" x2="1814.50" y2="384.30" stroke="#000" stroke-width="3" stroke-linecap="butt"/>
<line x1="1770.40" y1="377.90" x2="1829.40" y2="377.90" stroke="#000" stroke-width="3" stroke-linecap="butt"/>
<line x1="1889.00" y1="363.70" x2="1889.00" y2="379.10" stroke="#000" stroke-width="3" stroke-linecap="butt"/>
<line x1="1874.40" y1="363.70" x2="1903.60" y2="363.70" stroke="#000" stroke-width="3" stroke-linecap="butt"/>
<line x1="1874.40" y1="379.10" x2="1903.60" y2="379.10" stroke="#000" stroke-width="3" stroke-linecap="butt"/>
<line x1="1859.40" y1="371.90" x2="1918.60" y2="371.90" stroke="#000" stroke-width="3" stroke-linecap="butt"/>
<line x1="1629.30" y1="46.60" x2="1880.90" y2="46.60" stroke="#000" stroke-width="3" stroke-linecap="butt"/>
<text x="1748.72" y="41.70" font-size="23.34" fill="#000">ns</text>
<line x1="1629.30" y1="76.20" x2="1799.30" y2="76.20" stroke="#000" stroke-width="3" stroke-linecap="butt"/>
<text x="1697.72" y="72.10" font-size="23.34" fill="#000">ns</text>
<line x1="1629.30" y1="104.80" x2="1710.90" y2="104.80" stroke="#000" stroke-width="3" stroke-linecap="butt"/>
<text x="1658.30" y="101.86" font-size="21" fill="#000">*</text>
<text x="1667.70" y="101.86" font-size="21" fill="#000">*</text>
<text x="1677.11" y="101.86" font-size="21" fill="#000">*</text>
<line x1="1718.10" y1="104.30" x2="1891.20" y2="104.30" stroke="#000" stroke-width="3" stroke-linecap="butt"/>
<text x="1789.20" y="101.86" font-size="21" fill="#000">*</text>
<line x1="1718.10" y1="137.80" x2="1795.40" y2="137.80" stroke="#000" stroke-width="3" stroke-linecap="butt"/>
<text x="1750.61" y="137.16" font-size="21" fill="#000">*</text>
<line x1="1816.50" y1="137.80" x2="1892.70" y2="137.80" stroke="#000" stroke-width="3" stroke-linecap="butt"/>
<text x="1841.42" y="132.60" font-size="23.34" fill="#000">ns</text>
<text font-size="25.3" font-weight="bold" transform="translate(1638.00,477.00) rotate(-36)"><tspan x="-88.17" y="0.00">Control</tspan></text>
<text font-size="25.3" font-weight="bold" transform="translate(1728.30,473.60) rotate(-36)"><tspan x="-137.06" y="0.00">rhIL-7-hyFc</tspan></text>
<text font-size="25.3" font-weight="bold" transform="translate(1816.30,476.10) rotate(-36)"><tspan x="-164.96" y="0.00">PEG-rhG-CSF</tspan></text>
<text font-size="25.3" font-weight="bold" transform="translate(1897.90,476.10) rotate(-36)"><tspan x="-103.10" y="0.00">rhG-CSF</tspan></text>
<line x1="101.70" y1="695.70" x2="101.70" y2="1009.00" stroke="#000" stroke-width="3" stroke-linecap="butt"/>
<line x1="94.20" y1="1007.50" x2="101.70" y2="1007.50" stroke="#000" stroke-width="3" stroke-linecap="butt"/>
<text x="77.16" y="1014.96" font-size="22.03" font-weight="bold" fill="#000">0</text>
<line x1="94.20" y1="945.44" x2="101.70" y2="945.44" stroke="#000" stroke-width="3" stroke-linecap="butt"/>
<text x="64.93" y="952.90" font-size="22.03" font-weight="bold" fill="#000">20</text>
<line x1="94.20" y1="883.38" x2="101.70" y2="883.38" stroke="#000" stroke-width="3" stroke-linecap="butt"/>
<text x="64.93" y="890.84" font-size="22.03" font-weight="bold" fill="#000">40</text>
<line x1="94.20" y1="821.32" x2="101.70" y2="821.32" stroke="#000" stroke-width="3" stroke-linecap="butt"/>
<text x="64.93" y="828.78" font-size="22.03" font-weight="bold" fill="#000">60</text>
<line x1="94.20" y1="759.26" x2="101.70" y2="759.26" stroke="#000" stroke-width="3" stroke-linecap="butt"/>
<text x="64.93" y="766.72" font-size="22.03" font-weight="bold" fill="#000">80</text>
<line x1="94.20" y1="697.20" x2="101.70" y2="697.20" stroke="#000" stroke-width="3" stroke-linecap="butt"/>
<text x="52.65" y="704.66" font-size="22.03" font-weight="bold" fill="#000">100</text>
<line x1="100.20" y1="1007.50" x2="444.90" y2="1007.50" stroke="#000" stroke-width="3" stroke-linecap="butt"/>
<line x1="159.50" y1="1007.50" x2="159.50" y2="1015.00" stroke="#000" stroke-width="3" stroke-linecap="butt"/>
<line x1="273.40" y1="1007.50" x2="273.40" y2="1015.00" stroke="#000" stroke-width="3" stroke-linecap="butt"/>
<line x1="387.00" y1="1007.50" x2="387.00" y2="1015.00" stroke="#000" stroke-width="3" stroke-linecap="butt"/>
<text x="153.42" y="1042.40" font-size="21.82" font-weight="bold" fill="#000">8</text>
<text x="261.04" y="1042.40" font-size="21.82" font-weight="bold" fill="#000">12</text>
<text x="374.53" y="1042.40" font-size="21.82" font-weight="bold" fill="#000">18</text>
<text x="140.74" y="1076.50" font-size="25.63" font-weight="bold" fill="#000">Weeks after transplant</text>
<text x="0" y="0" font-size="25.7" font-weight="bold" transform="translate(36.75,1008.26) rotate(-90)">% CD45.2<tspan dy="-9.3" font-size="17.0">+</tspan><tspan dy="9.3"> in leukocytes</tspan></text>
<polyline points="159.5,793.7 273.4,788.2 387,785" fill="none" stroke="#000" stroke-width="3"/>
<polyline points="159.5,864.2 273.4,847.5 387,832.6" fill="none" stroke="#000" stroke-width="3"/>
<line x1="159.50" y1="775.20" x2="159.50" y2="811.40" stroke="#000" stroke-width="3" stroke-linecap="butt"/>
<line x1="151.70" y1="775.20" x2="167.30" y2="775.20" stroke="#000" stroke-width="3" stroke-linecap="butt"/>
<line x1="151.70" y1="811.40" x2="167.30" y2="811.40" stroke="#000" stroke-width="3" stroke-linecap="butt"/>
<line x1="273.40" y1="763.80" x2="273.40" y2="812.40" stroke="#000" stroke-width="3" stroke-linecap="butt"/>
<line x1="265.60" y1="763.80" x2="281.20" y2="763.80" stroke="#000" stroke-width="3" stroke-linecap="butt"/>
<line x1="265.60" y1="812.40" x2="281.20" y2="812.40" stroke="#000" stroke-width="3" stroke-linecap="butt"/>
<line x1="387.00" y1="751.30" x2="387.00" y2="836.00" stroke="#000" stroke-width="3" stroke-linecap="butt"/>
<line x1="379.20" y1="751.30" x2="394.80" y2="751.30" stroke="#000" stroke-width="3" stroke-linecap="butt"/>
<line x1="379.20" y1="836.00" x2="394.80" y2="836.00" stroke="#000" stroke-width="3" stroke-linecap="butt"/>
<line x1="159.50" y1="836.00" x2="159.50" y2="892.40" stroke="#000" stroke-width="3" stroke-linecap="butt"/>
<line x1="151.70" y1="836.00" x2="167.30" y2="836.00" stroke="#000" stroke-width="3" stroke-linecap="butt"/>
<line x1="151.70" y1="892.40" x2="167.30" y2="892.40" stroke="#000" stroke-width="3" stroke-linecap="butt"/>
<line x1="273.40" y1="821.10" x2="273.40" y2="873.70" stroke="#000" stroke-width="3" stroke-linecap="butt"/>
<line x1="265.60" y1="821.10" x2="281.20" y2="821.10" stroke="#000" stroke-width="3" stroke-linecap="butt"/>
<line x1="265.60" y1="873.70" x2="281.20" y2="873.70" stroke="#000" stroke-width="3" stroke-linecap="butt"/>
<line x1="387.00" y1="806.90" x2="387.00" y2="856.70" stroke="#000" stroke-width="3" stroke-linecap="butt"/>
<line x1="379.20" y1="806.90" x2="394.80" y2="806.90" stroke="#000" stroke-width="3" stroke-linecap="butt"/>
<line x1="379.20" y1="856.70" x2="394.80" y2="856.70" stroke="#000" stroke-width="3" stroke-linecap="butt"/>
<circle cx="159.50" cy="793.70" r="7.60" fill="#FF0000" stroke="#000" stroke-width="3"/>
<circle cx="273.40" cy="788.20" r="7.60" fill="#FF0000" stroke="#000" stroke-width="3"/>
<circle cx="387.00" cy="785.00" r="7.60" fill="#FF0000" stroke="#000" stroke-width="3"/>
<circle cx="159.50" cy="864.20" r="7.60" fill="#0000FF" stroke="#000" stroke-width="3"/>
<circle cx="273.40" cy="847.50" r="7.60" fill="#0000FF" stroke="#000" stroke-width="3"/>
<circle cx="387.00" cy="832.60" r="7.60" fill="#0000FF" stroke="#000" stroke-width="3"/>
<text x="143.63" y="761.57" font-size="25.5" fill="#000">*</text>
<text x="154.63" y="761.57" font-size="25.5" fill="#000">*</text>
<text x="165.63" y="761.57" font-size="25.5" fill="#000">*</text>
<text x="261.93" y="748.67" font-size="25.5" fill="#000">*</text>
<text x="272.93" y="748.67" font-size="25.5" fill="#000">*</text>
<text x="380.03" y="743.57" font-size="25.5" fill="#000">*</text>
<circle cx="261.70" cy="921.50" r="7.60" fill="#FF0000" stroke="#000" stroke-width="3"/>
<text x="284.94" y="931.50" font-size="25.58" font-weight="bold" fill="#000">rhIL-7-hyFc</text>
<circle cx="261.70" cy="965.90" r="7.60" fill="#0000FF" stroke="#000" stroke-width="3"/>
<text x="284.87" y="975.10" font-size="25.58" font-weight="bold" fill="#000">PEG-rhG-CSF</text>
<line x1="593.30" y1="703.20" x2="593.30" y2="1009.00" stroke="#000" stroke-width="3" stroke-linecap="butt"/>
<line x1="583.30" y1="1007.50" x2="593.30" y2="1007.50" stroke="#000" stroke-width="3" stroke-linecap="butt"/>
<text x="563.51" y="1017.23" font-size="28.72" font-weight="bold" fill="#000">0</text>
<line x1="583.30" y1="946.94" x2="593.30" y2="946.94" stroke="#000" stroke-width="3" stroke-linecap="butt"/>
<text x="547.56" y="956.67" font-size="28.72" font-weight="bold" fill="#000">20</text>
<line x1="583.30" y1="886.38" x2="593.30" y2="886.38" stroke="#000" stroke-width="3" stroke-linecap="butt"/>
<text x="547.56" y="896.11" font-size="28.72" font-weight="bold" fill="#000">40</text>
<line x1="583.30" y1="825.82" x2="593.30" y2="825.82" stroke="#000" stroke-width="3" stroke-linecap="butt"/>
<text x="547.56" y="835.55" font-size="28.72" font-weight="bold" fill="#000">60</text>
<line x1="583.30" y1="765.26" x2="593.30" y2="765.26" stroke="#000" stroke-width="3" stroke-linecap="butt"/>
<text x="547.56" y="774.99" font-size="28.72" font-weight="bold" fill="#000">80</text>
<line x1="583.30" y1="704.70" x2="593.30" y2="704.70" stroke="#000" stroke-width="3" stroke-linecap="butt"/>
<text x="531.55" y="714.43" font-size="28.72" font-weight="bold" fill="#000">100</text>
<line x1="591.80" y1="1007.50" x2="785.20" y2="1007.50" stroke="#000" stroke-width="3" stroke-linecap="butt"/>
<line x1="641.40" y1="1007.50" x2="641.40" y2="1018.50" stroke="#000" stroke-width="3" stroke-linecap="butt"/>
<line x1="736.10" y1="1007.50" x2="736.10" y2="1018.50" stroke="#000" stroke-width="3" stroke-linecap="butt"/>
<text x="0" y="0" font-size="26.2" stroke="#000" stroke-width="0.55" transform="translate(523.57,986.51) rotate(-90)">% CD45.2<tspan dy="-9.4" font-size="17.3">+</tspan><tspan dy="9.4"> in B220<tspan dy="-9.4" font-size="17.3">+</tspan><tspan dy="9.4"></tspan></tspan></text>
<line x1="915.90" y1="702.60" x2="915.90" y2="1009.60" stroke="#000" stroke-width="3" stroke-linecap="butt"/>
<line x1="905.90" y1="1008.10" x2="915.90" y2="1008.10" stroke="#000" stroke-width="3" stroke-linecap="butt"/>
<text x="884.91" y="1017.83" font-size="28.72" font-weight="bold" fill="#000">0</text>
<line x1="905.90" y1="947.30" x2="915.90" y2="947.30" stroke="#000" stroke-width="3" stroke-linecap="butt"/>
<text x="868.96" y="957.03" font-size="28.72" font-weight="bold" fill="#000">20</text>
<line x1="905.90" y1="886.50" x2="915.90" y2="886.50" stroke="#000" stroke-width="3" stroke-linecap="butt"/>
<text x="868.96" y="896.23" font-size="28.72" font-weight="bold" fill="#000">40</text>
<line x1="905.90" y1="825.70" x2="915.90" y2="825.70" stroke="#000" stroke-width="3" stroke-linecap="butt"/>
<text x="868.96" y="835.43" font-size="28.72" font-weight="bold" fill="#000">60</text>
<line x1="905.90" y1="764.90" x2="915.90" y2="764.90" stroke="#000" stroke-width="3" stroke-linecap="butt"/>
<text x="868.96" y="774.63" font-size="28.72" font-weight="bold" fill="#000">80</text>
<line x1="905.90" y1="704.10" x2="915.90" y2="704.10" stroke="#000" stroke-width="3" stroke-linecap="butt"/>
<text x="852.95" y="713.83" font-size="28.72" font-weight="bold" fill="#000">100</text>
<line x1="914.40" y1="1008.10" x2="1106.90" y2="1008.10" stroke="#000" stroke-width="3" stroke-linecap="butt"/>
<line x1="962.60" y1="1008.10" x2="962.60" y2="1019.10" stroke="#000" stroke-width="3" stroke-linecap="butt"/>
<line x1="1057.00" y1="1008.10" x2="1057.00" y2="1019.10" stroke="#000" stroke-width="3" stroke-linecap="butt"/>
<text x="0" y="0" font-size="26.2" stroke="#000" stroke-width="0.55" transform="translate(842.17,986.61) rotate(-90)">% CD45.2<tspan dy="-9.4" font-size="17.3">+</tspan><tspan dy="9.4"> in CD11b<tspan dy="-9.4" font-size="17.3">+</tspan><tspan dy="9.4"></tspan></tspan></text>
<line x1="1221.20" y1="702.60" x2="1221.20" y2="1009.60" stroke="#000" stroke-width="3" stroke-linecap="butt"/>
<line x1="1211.20" y1="1008.10" x2="1221.20" y2="1008.10" stroke="#000" stroke-width="3" stroke-linecap="butt"/>
<text x="1190.21" y="1017.83" font-size="28.72" font-weight="bold" fill="#000">0</text>
<line x1="1211.20" y1="947.30" x2="1221.20" y2="947.30" stroke="#000" stroke-width="3" stroke-linecap="butt"/>
<text x="1174.26" y="957.03" font-size="28.72" font-weight="bold" fill="#000">20</text>
<line x1="1211.20" y1="886.50" x2="1221.20" y2="886.50" stroke="#000" stroke-width="3" stroke-linecap="butt"/>
<text x="1174.26" y="896.23" font-size="28.72" font-weight="bold" fill="#000">40</text>
<line x1="1211.20" y1="825.70" x2="1221.20" y2="825.70" stroke="#000" stroke-width="3" stroke-linecap="butt"/>
<text x="1174.26" y="835.43" font-size="28.72" font-weight="bold" fill="#000">60</text>
<line x1="1211.20" y1="764.90" x2="1221.20" y2="764.90" stroke="#000" stroke-width="3" stroke-linecap="butt"/>
<text x="1174.26" y="774.63" font-size="28.72" font-weight="bold" fill="#000">80</text>
<line x1="1211.20" y1="704.10" x2="1221.20" y2="704.10" stroke="#000" stroke-width="3" stroke-linecap="butt"/>
<text x="1158.25" y="713.83" font-size="28.72" font-weight="bold" fill="#000">100</text>
<line x1="1219.70" y1="1008.10" x2="1410.00" y2="1008.10" stroke="#000" stroke-width="3" stroke-linecap="butt"/>
<line x1="1268.20" y1="1008.10" x2="1268.20" y2="1019.10" stroke="#000" stroke-width="3" stroke-linecap="butt"/>
<line x1="1362.90" y1="1008.10" x2="1362.90" y2="1019.10" stroke="#000" stroke-width="3" stroke-linecap="butt"/>
<text x="0" y="0" font-size="26.2" stroke="#000" stroke-width="0.55" transform="translate(1147.47,986.85) rotate(-90)">% CD45.2<tspan dy="-9.4" font-size="17.3">+</tspan><tspan dy="9.4"> in CD3ε<tspan dy="-9.4" font-size="17.3">+</tspan><tspan dy="9.4"></tspan></tspan></text>
<circle cx="626.40" cy="758.80" r="7.80" fill="#FF0000" stroke="#000" stroke-width="3"/>
<circle cx="626.40" cy="775.00" r="7.80" fill="#FF0000" stroke="#000" stroke-width="3"/>
<circle cx="656.90" cy="775.00" r="7.80" fill="#FF0000" stroke="#000" stroke-width="3"/>
<circle cx="626.40" cy="801.40" r="7.80" fill="#FF0000" stroke="#000" stroke-width="3"/>
<circle cx="656.90" cy="799.90" r="7.80" fill="#FF0000" stroke="#000" stroke-width="3"/>
<circle cx="736.60" cy="795.70" r="7.80" fill="#0000FF" stroke="#000" stroke-width="3"/>
<circle cx="759.80" cy="852.50" r="7.80" fill="#0000FF" stroke="#000" stroke-width="3"/>
<circle cx="736.60" cy="863.00" r="7.80" fill="#0000FF" stroke="#000" stroke-width="3"/>
<circle cx="759.80" cy="868.00" r="7.80" fill="#0000FF" stroke="#000" stroke-width="3"/>
<circle cx="712.90" cy="874.20" r="7.80" fill="#0000FF" stroke="#000" stroke-width="3"/>
<line x1="641.90" y1="764.00" x2="641.90" y2="800.70" stroke="#000" stroke-width="3" stroke-linecap="butt"/>
<line x1="626.90" y1="764.00" x2="656.90" y2="764.00" stroke="#000" stroke-width="3" stroke-linecap="butt"/>
<line x1="626.90" y1="800.70" x2="656.90" y2="800.70" stroke="#000" stroke-width="3" stroke-linecap="butt"/>
<line x1="610.70" y1="782.50" x2="673.10" y2="782.50" stroke="#000" stroke-width="3" stroke-linecap="butt"/>
<line x1="736.40" y1="818.80" x2="736.40" y2="882.40" stroke="#000" stroke-width="3" stroke-linecap="butt"/>
<line x1="720.40" y1="818.80" x2="752.40" y2="818.80" stroke="#000" stroke-width="3" stroke-linecap="butt"/>
<line x1="720.40" y1="882.40" x2="752.40" y2="882.40" stroke="#000" stroke-width="3" stroke-linecap="butt"/>
<line x1="704.50" y1="851.20" x2="768.30" y2="851.20" stroke="#000" stroke-width="3" stroke-linecap="butt"/>
<line x1="646.10" y1="722.10" x2="747.30" y2="722.10" stroke="#000" stroke-width="3" stroke-linecap="butt"/>
<text x="683.94" y="714.25" font-size="28" fill="#000">*</text>
<text x="698.14" y="714.25" font-size="28" fill="#000">*</text>
<circle cx="948.00" cy="790.10" r="7.80" fill="#FF0000" stroke="#000" stroke-width="3"/>
<circle cx="978.50" cy="794.40" r="7.80" fill="#FF0000" stroke="#000" stroke-width="3"/>
<circle cx="948.00" cy="808.40" r="7.80" fill="#FF0000" stroke="#000" stroke-width="3"/>
<circle cx="962.90" cy="826.50" r="7.80" fill="#FF0000" stroke="#000" stroke-width="3"/>
<circle cx="962.90" cy="868.00" r="7.80" fill="#FF0000" stroke="#000" stroke-width="3"/>
<circle cx="1057.00" cy="773.60" r="7.80" fill="#0000FF" stroke="#000" stroke-width="3"/>
<circle cx="1057.00" cy="858.30" r="7.80" fill="#0000FF" stroke="#000" stroke-width="3"/>
<circle cx="1057.00" cy="888.80" r="7.80" fill="#0000FF" stroke="#000" stroke-width="3"/>
<circle cx="1072.60" cy="928.70" r="7.80" fill="#0000FF" stroke="#000" stroke-width="3"/>
<circle cx="1042.00" cy="943.30" r="7.80" fill="#0000FF" stroke="#000" stroke-width="3"/>
<line x1="962.90" y1="786.00" x2="962.90" y2="849.30" stroke="#000" stroke-width="3" stroke-linecap="butt"/>
<line x1="947.30" y1="786.00" x2="978.50" y2="786.00" stroke="#000" stroke-width="3" stroke-linecap="butt"/>
<line x1="947.30" y1="849.30" x2="978.50" y2="849.30" stroke="#000" stroke-width="3" stroke-linecap="butt"/>
<line x1="931.70" y1="817.20" x2="994.10" y2="817.20" stroke="#000" stroke-width="3" stroke-linecap="butt"/>
<line x1="1057.00" y1="810.90" x2="1057.00" y2="945.80" stroke="#000" stroke-width="3" stroke-linecap="butt"/>
<line x1="1041.10" y1="810.90" x2="1072.90" y2="810.90" stroke="#000" stroke-width="3" stroke-linecap="butt"/>
<line x1="1041.10" y1="945.80" x2="1072.90" y2="945.80" stroke="#000" stroke-width="3" stroke-linecap="butt"/>
<line x1="1025.80" y1="877.90" x2="1088.20" y2="877.90" stroke="#000" stroke-width="3" stroke-linecap="butt"/>
<line x1="964.50" y1="731.50" x2="1067.00" y2="731.50" stroke="#000" stroke-width="3" stroke-linecap="butt"/>
<text x="956.55" y="717.50" font-size="27.00" fill="#000">p=0.1058</text>
<circle cx="1253.30" cy="776.70" r="7.80" fill="#FF0000" stroke="#000" stroke-width="3"/>
<circle cx="1283.80" cy="790.10" r="7.80" fill="#FF0000" stroke="#000" stroke-width="3"/>
<circle cx="1253.30" cy="814.00" r="7.80" fill="#FF0000" stroke="#000" stroke-width="3"/>
<circle cx="1283.80" cy="824.30" r="7.80" fill="#FF0000" stroke="#000" stroke-width="3"/>
<circle cx="1268.20" cy="876.40" r="7.80" fill="#FF0000" stroke="#000" stroke-width="3"/>
<circle cx="1363.20" cy="849.30" r="7.80" fill="#0000FF" stroke="#000" stroke-width="3"/>
<circle cx="1378.80" cy="876.40" r="7.80" fill="#0000FF" stroke="#000" stroke-width="3"/>
<circle cx="1348.30" cy="886.30" r="7.80" fill="#0000FF" stroke="#000" stroke-width="3"/>
<circle cx="1363.20" cy="908.40" r="7.80" fill="#0000FF" stroke="#000" stroke-width="3"/>
<circle cx="1363.20" cy="933.00" r="7.80" fill="#0000FF" stroke="#000" stroke-width="3"/>
<line x1="1268.80" y1="778.20" x2="1268.80" y2="854.50" stroke="#000" stroke-width="3" stroke-linecap="butt"/>
<line x1="1253.20" y1="778.20" x2="1284.40" y2="778.20" stroke="#000" stroke-width="3" stroke-linecap="butt"/>
<line x1="1253.20" y1="854.50" x2="1284.40" y2="854.50" stroke="#000" stroke-width="3" stroke-linecap="butt"/>
<line x1="1237.60" y1="816.20" x2="1300.00" y2="816.20" stroke="#000" stroke-width="3" stroke-linecap="butt"/>
<line x1="1362.90" y1="859.20" x2="1362.90" y2="922.50" stroke="#000" stroke-width="3" stroke-linecap="butt"/>
<line x1="1347.30" y1="859.20" x2="1378.50" y2="859.20" stroke="#000" stroke-width="3" stroke-linecap="butt"/>
<line x1="1347.30" y1="922.50" x2="1378.50" y2="922.50" stroke="#000" stroke-width="3" stroke-linecap="butt"/>
<line x1="1331.70" y1="890.40" x2="1394.10" y2="890.40" stroke="#000" stroke-width="3" stroke-linecap="butt"/>
<line x1="1270.40" y1="734.60" x2="1372.60" y2="734.60" stroke="#000" stroke-width="3" stroke-linecap="butt"/>
<text x="1315.44" y="728.75" font-size="28" fill="#000">*</text>
<circle cx="609.50" cy="1067.30" r="7.80" fill="#FF0000" stroke="#000" stroke-width="3"/>
<text x="634.05" y="1076.00" font-size="25.37" font-weight="bold" fill="#000">rhIL-7-hyFc</text>
<circle cx="801.40" cy="1067.30" r="7.80" fill="#0000FF" stroke="#000" stroke-width="3"/>
<text x="825.89" y="1076.00" font-size="25.37" font-weight="bold" fill="#000">PEG-rhG-CSF</text>
<line x1="1513.90" y1="710.50" x2="1513.90" y2="1020.80" stroke="#000" stroke-width="3" stroke-linecap="butt"/>
<line x1="1504.60" y1="1019.30" x2="1513.90" y2="1019.30" stroke="#000" stroke-width="3" stroke-linecap="butt"/>
<text x="1490.05" y="1026.04" font-size="19.89" font-weight="bold" fill="#000">0</text>
<line x1="1504.60" y1="957.84" x2="1513.90" y2="957.84" stroke="#000" stroke-width="3" stroke-linecap="butt"/>
<text x="1489.81" y="964.58" font-size="19.89" font-weight="bold" fill="#000">1</text>
<line x1="1504.60" y1="896.38" x2="1513.90" y2="896.38" stroke="#000" stroke-width="3" stroke-linecap="butt"/>
<text x="1490.05" y="903.22" font-size="19.89" font-weight="bold" fill="#000">2</text>
<line x1="1504.60" y1="834.92" x2="1513.90" y2="834.92" stroke="#000" stroke-width="3" stroke-linecap="butt"/>
<text x="1489.96" y="841.63" font-size="19.89" font-weight="bold" fill="#000">3</text>
<line x1="1504.60" y1="773.46" x2="1513.90" y2="773.46" stroke="#000" stroke-width="3" stroke-linecap="butt"/>
<text x="1489.36" y="780.20" font-size="19.89" font-weight="bold" fill="#000">4</text>
<line x1="1504.60" y1="712.00" x2="1513.90" y2="712.00" stroke="#000" stroke-width="3" stroke-linecap="butt"/>
<text x="1489.81" y="718.64" font-size="19.89" font-weight="bold" fill="#000">5</text>
<line x1="1512.40" y1="1019.30" x2="1822.00" y2="1019.30" stroke="#000" stroke-width="3" stroke-linecap="butt"/>
<line x1="1565.50" y1="1019.30" x2="1565.50" y2="1027.30" stroke="#000" stroke-width="3" stroke-linecap="butt"/>
<line x1="1667.00" y1="1019.30" x2="1667.00" y2="1027.30" stroke="#000" stroke-width="3" stroke-linecap="butt"/>
<line x1="1769.30" y1="1019.30" x2="1769.30" y2="1027.30" stroke="#000" stroke-width="3" stroke-linecap="butt"/>
<text x="0" y="0" font-size="25.5" font-weight="bold" transform="translate(1468.50,968.57) rotate(-90)">PB HSCs (x10<tspan dy="-7.91" font-size="17.34">3</tspan><tspan dy="7.91">/ml)</tspan></text>
<circle cx="1538.60" cy="1019.30" r="7.75" fill="#fff" stroke="#000" stroke-width="3"/>
<circle cx="1556.10" cy="1009.90" r="7.75" fill="#fff" stroke="#000" stroke-width="3"/>
<circle cx="1573.50" cy="1019.30" r="7.75" fill="#fff" stroke="#000" stroke-width="3"/>
<circle cx="1591.00" cy="1019.30" r="7.75" fill="#fff" stroke="#000" stroke-width="3"/>
<line x1="1549.80" y1="1013.40" x2="1581.60" y2="1013.40" stroke="#000" stroke-width="3" stroke-linecap="butt"/>
<line x1="1551.70" y1="1017.00" x2="1576.00" y2="1017.00" stroke="#000" stroke-width="3" stroke-linecap="butt"/>
<line x1="1564.80" y1="1011.00" x2="1564.80" y2="1028.50" stroke="#000" stroke-width="3" stroke-linecap="butt"/>
<circle cx="1667.00" cy="822.20" r="7.75" fill="#FF0000" stroke="#000" stroke-width="3"/>
<circle cx="1667.00" cy="894.00" r="7.75" fill="#FF0000" stroke="#000" stroke-width="3"/>
<circle cx="1667.20" cy="957.70" r="7.75" fill="#FF0000" stroke="#000" stroke-width="3"/>
<circle cx="1693.30" cy="961.40" r="7.75" fill="#FF0000" stroke="#000" stroke-width="3"/>
<circle cx="1640.80" cy="969.70" r="7.75" fill="#FF0000" stroke="#000" stroke-width="3"/>
<circle cx="1769.30" cy="749.10" r="7.75" fill="#FF8000" stroke="#000" stroke-width="3"/>
<circle cx="1769.30" cy="867.40" r="7.75" fill="#FF8000" stroke="#000" stroke-width="3"/>
<circle cx="1753.90" cy="912.90" r="7.75" fill="#FF8000" stroke="#000" stroke-width="3"/>
<circle cx="1785.20" cy="914.90" r="7.75" fill="#FF8000" stroke="#000" stroke-width="3"/>
<circle cx="1769.30" cy="952.90" r="7.75" fill="#FF8000" stroke="#000" stroke-width="3"/>
<line x1="1667.00" y1="858.40" x2="1667.00" y2="983.90" stroke="#000" stroke-width="3" stroke-linecap="butt"/>
<line x1="1650.10" y1="858.40" x2="1683.90" y2="858.40" stroke="#000" stroke-width="3" stroke-linecap="butt"/>
<line x1="1650.10" y1="983.90" x2="1683.90" y2="983.90" stroke="#000" stroke-width="3" stroke-linecap="butt"/>
<line x1="1655.40" y1="921.00" x2="1678.60" y2="921.00" stroke="#000" stroke-width="3" stroke-linecap="butt"/>
<line x1="1769.30" y1="800.70" x2="1769.30" y2="957.80" stroke="#000" stroke-width="3" stroke-linecap="butt"/>
<line x1="1752.20" y1="800.70" x2="1786.40" y2="800.70" stroke="#000" stroke-width="3" stroke-linecap="butt"/>
<line x1="1752.20" y1="957.80" x2="1786.40" y2="957.80" stroke="#000" stroke-width="3" stroke-linecap="butt"/>
<line x1="1758.10" y1="879.60" x2="1780.50" y2="879.60" stroke="#000" stroke-width="3" stroke-linecap="butt"/>
<line x1="1665.50" y1="706.20" x2="1769.90" y2="706.20" stroke="#000" stroke-width="3" stroke-linecap="butt"/>
<text x="1703.62" y="692.60" font-size="23.34" fill="#000">ns</text>
<text font-size="25.3" font-weight="bold" transform="translate(1570.20,1057.00) rotate(-36)"><tspan x="-88.17" y="0.00">Control</tspan></text>
<text font-size="25.3" font-weight="bold" transform="translate(1676.70,1058.70) rotate(-36)"><tspan x="-137.06" y="0.00">rhIL-7-hyFc</tspan></text>
<text font-size="25.3" font-weight="bold" transform="translate(1778.10,1057.90) rotate(-36)"><tspan x="-164.96" y="0.00">PEG-rhG-CSF</tspan></text>
<text font-size="25.3" font-weight="bold" transform="translate(1784.41,1095.54) rotate(-36)"><tspan x="-133.71" y="0.00">+ AMD3100</tspan></text>
<line x1="145.20" y1="1253.00" x2="489.50" y2="1253.00" stroke="#000" stroke-width="3" stroke-linecap="butt"/>
<line x1="145.20" y1="1246.00" x2="145.20" y2="1272.30" stroke="#000" stroke-width="3" stroke-linecap="butt"/>
<line x1="262.50" y1="1234.70" x2="262.50" y2="1272.30" stroke="#000" stroke-width="3" stroke-linecap="butt"/>
<line x1="375.50" y1="1234.70" x2="375.50" y2="1272.30" stroke="#000" stroke-width="3" stroke-linecap="butt"/>
<line x1="489.50" y1="1237.00" x2="489.50" y2="1272.30" stroke="#000" stroke-width="3" stroke-linecap="butt"/>
<polygon points="145.70,1246.40 156.90,1226.40 148.60,1226.40 148.60,1200.50 142.80,1200.50 142.80,1226.40 134.50,1226.40" fill="#4472C4"/>
<polygon points="463.60,1248.00 474.90,1226.40 466.60,1226.40 466.60,1200.50 460.60,1200.50 460.60,1226.40 452.30,1226.40" fill="#000"/>
<text x="129.57" y="1302.90" font-size="24.26" fill="#000">d0</text>
<text x="247.57" y="1302.90" font-size="24.26" fill="#000">d1</text>
<text x="356.27" y="1302.90" font-size="24.26" fill="#000">d2</text>
<text x="472.57" y="1302.90" font-size="24.26" fill="#000">d3</text>
<text x="445.67" y="1332.10" font-size="25.07" font-weight="bold" fill="#000">Analysis</text>
<polygon points="631.20,1228.60 642.25,1250.60 634.15,1250.60 634.15,1276.60 628.25,1276.60 628.25,1250.60 620.15,1250.60" fill="#4472C4"/>
<text x="690.44" y="1248.00" font-size="26.03" fill="#4472C4">rhIL-7-hyFc (0.5 mg/kg, s.c.) or</text>
<text x="690.05" y="1277.90" font-size="26.03" fill="#4472C4">PEG-rhG-CSF (250 μg/kg, s.c.)</text>
<polygon points="1146.50,1228.60 1157.50,1250.60 1149.50,1250.60 1149.50,1276.60 1143.50,1276.60 1143.50,1250.60 1135.50,1250.60" fill="#000"/>
<text x="1207.63" y="1248.00" font-size="26.19" fill="#000">AMD3100</text>
<text x="1206.08" y="1277.40" font-size="25.98" fill="#000">(5 mg/kg, 1 h before analysis, s.c.)</text>
<line x1="157.10" y1="1482.55" x2="157.10" y2="1788.80" stroke="#000" stroke-width="3" stroke-linecap="butt"/>
<line x1="147.80" y1="1787.30" x2="157.10" y2="1787.30" stroke="#000" stroke-width="3" stroke-linecap="butt"/>
<text x="114.54" y="1794.69" font-size="21.82" font-weight="bold" fill="#000">0.0</text>
<line x1="147.80" y1="1726.65" x2="157.10" y2="1726.65" stroke="#000" stroke-width="3" stroke-linecap="butt"/>
<text x="114.27" y="1734.04" font-size="21.82" font-weight="bold" fill="#000">0.5</text>
<line x1="147.80" y1="1666.00" x2="157.10" y2="1666.00" stroke="#000" stroke-width="3" stroke-linecap="butt"/>
<text x="114.54" y="1673.39" font-size="21.82" font-weight="bold" fill="#000">1.0</text>
<line x1="147.80" y1="1605.35" x2="157.10" y2="1605.35" stroke="#000" stroke-width="3" stroke-linecap="butt"/>
<text x="114.27" y="1612.63" font-size="21.82" font-weight="bold" fill="#000">1.5</text>
<line x1="147.80" y1="1544.70" x2="157.10" y2="1544.70" stroke="#000" stroke-width="3" stroke-linecap="butt"/>
<text x="114.54" y="1552.09" font-size="21.82" font-weight="bold" fill="#000">2.0</text>
<line x1="147.80" y1="1484.05" x2="157.10" y2="1484.05" stroke="#000" stroke-width="3" stroke-linecap="butt"/>
<text x="114.27" y="1491.44" font-size="21.82" font-weight="bold" fill="#000">2.5</text>
<line x1="155.60" y1="1787.30" x2="508.50" y2="1787.30" stroke="#000" stroke-width="3" stroke-linecap="butt"/>
<line x1="200.10" y1="1787.30" x2="200.10" y2="1796.60" stroke="#000" stroke-width="3" stroke-linecap="butt"/>
<line x1="288.00" y1="1787.30" x2="288.00" y2="1796.60" stroke="#000" stroke-width="3" stroke-linecap="butt"/>
<line x1="375.60" y1="1787.30" x2="375.60" y2="1796.60" stroke="#000" stroke-width="3" stroke-linecap="butt"/>
<line x1="463.20" y1="1787.30" x2="463.20" y2="1796.60" stroke="#000" stroke-width="3" stroke-linecap="butt"/>
<text x="0" y="0" font-size="25.5" font-weight="bold" transform="translate(87.30,1744.47) rotate(-90)">PB HSCs (x10<tspan dy="-7.91" font-size="17.34">3</tspan><tspan dy="7.91">/ml)</tspan></text>
<circle cx="200.20" cy="1711.70" r="7.00" fill="#000" stroke="#000" stroke-width="3"/>
<circle cx="197.40" cy="1756.20" r="7.00" fill="#000" stroke="#000" stroke-width="3"/>
<circle cx="203.40" cy="1755.20" r="7.00" fill="#000" stroke="#000" stroke-width="3"/>
<circle cx="183.40" cy="1773.00" r="7.00" fill="#000" stroke="#000" stroke-width="3"/>
<circle cx="189.90" cy="1775.80" r="7.00" fill="#000" stroke="#000" stroke-width="3"/>
<circle cx="204.90" cy="1776.70" r="7.00" fill="#000" stroke="#000" stroke-width="3"/>
<circle cx="196.00" cy="1770.00" r="7.00" fill="#000" stroke="#000" stroke-width="3"/>
<circle cx="177.80" cy="1787.60" r="7.00" fill="#000" stroke="#000" stroke-width="3"/>
<circle cx="189.00" cy="1787.60" r="7.00" fill="#000" stroke="#000" stroke-width="3"/>
<circle cx="200.20" cy="1787.60" r="7.00" fill="#000" stroke="#000" stroke-width="3"/>
<circle cx="212.30" cy="1787.60" r="7.00" fill="#000" stroke="#000" stroke-width="3"/>
<circle cx="222.60" cy="1787.60" r="7.00" fill="#000" stroke="#000" stroke-width="3"/>
<line x1="188.00" y1="1767.00" x2="214.60" y2="1767.00" stroke="#000" stroke-width="3" stroke-linecap="butt"/>
<circle cx="288.00" cy="1580.80" r="7.00" fill="#FF0000" stroke="#000" stroke-width="3"/>
<circle cx="288.00" cy="1623.80" r="7.00" fill="#FF0000" stroke="#000" stroke-width="3"/>
<circle cx="288.00" cy="1696.40" r="7.00" fill="#FF0000" stroke="#000" stroke-width="3"/>
<circle cx="266.20" cy="1727.80" r="7.00" fill="#FF0000" stroke="#000" stroke-width="3"/>
<circle cx="310.10" cy="1720.30" r="7.00" fill="#FF0000" stroke="#000" stroke-width="3"/>
<circle cx="295.10" cy="1733.40" r="7.00" fill="#FF0000" stroke="#000" stroke-width="3"/>
<circle cx="281.10" cy="1740.30" r="7.00" fill="#FF0000" stroke="#000" stroke-width="3"/>
<circle cx="266.20" cy="1745.90" r="7.00" fill="#FF0000" stroke="#000" stroke-width="3"/>
<circle cx="310.10" cy="1745.90" r="7.00" fill="#FF0000" stroke="#000" stroke-width="3"/>
<circle cx="295.10" cy="1754.30" r="7.00" fill="#FF0000" stroke="#000" stroke-width="3"/>
<circle cx="281.10" cy="1762.10" r="7.00" fill="#FF0000" stroke="#000" stroke-width="3"/>
<circle cx="295.10" cy="1772.60" r="7.00" fill="#FF0000" stroke="#000" stroke-width="3"/>
<circle cx="281.10" cy="1777.70" r="7.00" fill="#FF0000" stroke="#000" stroke-width="3"/>
<circle cx="369.90" cy="1662.30" r="7.00" fill="#0000FF" stroke="#000" stroke-width="3"/>
<circle cx="381.10" cy="1669.80" r="7.00" fill="#0000FF" stroke="#000" stroke-width="3"/>
<circle cx="375.50" cy="1694.10" r="7.00" fill="#0000FF" stroke="#000" stroke-width="3"/>
<circle cx="353.80" cy="1707.20" r="7.00" fill="#0000FF" stroke="#000" stroke-width="3"/>
<circle cx="365.00" cy="1708.10" r="7.00" fill="#0000FF" stroke="#000" stroke-width="3"/>
<circle cx="397.00" cy="1707.20" r="7.00" fill="#0000FF" stroke="#000" stroke-width="3"/>
<circle cx="386.20" cy="1719.70" r="7.00" fill="#0000FF" stroke="#000" stroke-width="3"/>
<circle cx="375.50" cy="1721.00" r="7.00" fill="#0000FF" stroke="#000" stroke-width="3"/>
<circle cx="365.00" cy="1733.70" r="7.00" fill="#0000FF" stroke="#000" stroke-width="3"/>
<circle cx="353.80" cy="1746.80" r="7.00" fill="#0000FF" stroke="#000" stroke-width="3"/>
<circle cx="375.50" cy="1745.90" r="7.00" fill="#0000FF" stroke="#000" stroke-width="3"/>
<circle cx="386.20" cy="1742.70" r="7.00" fill="#0000FF" stroke="#000" stroke-width="3"/>
<circle cx="397.00" cy="1752.10" r="7.00" fill="#0000FF" stroke="#000" stroke-width="3"/>
<circle cx="484.90" cy="1539.70" r="7.00" fill="#FF8000" stroke="#000" stroke-width="3"/>
<circle cx="463.20" cy="1553.40" r="7.00" fill="#FF8000" stroke="#000" stroke-width="3"/>
<circle cx="463.20" cy="1579.00" r="7.00" fill="#FF8000" stroke="#000" stroke-width="3"/>
<circle cx="463.20" cy="1599.50" r="7.00" fill="#FF8000" stroke="#000" stroke-width="3"/>
<circle cx="452.50" cy="1647.80" r="7.00" fill="#FF8000" stroke="#000" stroke-width="3"/>
<circle cx="474.00" cy="1653.70" r="7.00" fill="#FF8000" stroke="#000" stroke-width="3"/>
<circle cx="441.90" cy="1668.70" r="7.00" fill="#FF8000" stroke="#000" stroke-width="3"/>
<circle cx="463.20" cy="1679.20" r="7.00" fill="#FF8000" stroke="#000" stroke-width="3"/>
<circle cx="463.20" cy="1698.60" r="7.00" fill="#FF8000" stroke="#000" stroke-width="3"/>
<circle cx="484.90" cy="1702.00" r="7.00" fill="#FF8000" stroke="#000" stroke-width="3"/>
<circle cx="441.90" cy="1719.20" r="7.00" fill="#FF8000" stroke="#000" stroke-width="3"/>
<circle cx="463.20" cy="1716.00" r="7.00" fill="#FF8000" stroke="#000" stroke-width="3"/>
<circle cx="484.90" cy="1719.20" r="7.00" fill="#FF8000" stroke="#000" stroke-width="3"/>
<line x1="288.00" y1="1705.30" x2="288.00" y2="1738.00" stroke="#000" stroke-width="3" stroke-linecap="butt"/>
<line x1="274.00" y1="1705.30" x2="302.10" y2="1705.30" stroke="#000" stroke-width="3" stroke-linecap="butt"/>
<line x1="278.70" y1="1721.60" x2="297.40" y2="1721.60" stroke="#000" stroke-width="3" stroke-linecap="butt"/>
<line x1="375.60" y1="1708.00" x2="375.60" y2="1724.00" stroke="#000" stroke-width="3" stroke-linecap="butt"/>
<line x1="365.60" y1="1707.60" x2="389.00" y2="1707.60" stroke="#000" stroke-width="3" stroke-linecap="butt"/>
<line x1="361.00" y1="1723.50" x2="371.00" y2="1723.50" stroke="#000" stroke-width="3" stroke-linecap="butt"/>
<line x1="463.20" y1="1634.30" x2="463.20" y2="1669.30" stroke="#000" stroke-width="3" stroke-linecap="butt"/>
<line x1="448.80" y1="1634.30" x2="477.80" y2="1634.30" stroke="#000" stroke-width="3" stroke-linecap="butt"/>
<line x1="448.80" y1="1669.30" x2="477.80" y2="1669.30" stroke="#000" stroke-width="3" stroke-linecap="butt"/>
<line x1="288.00" y1="1467.30" x2="462.50" y2="1467.30" stroke="#000" stroke-width="3" stroke-linecap="butt"/>
<text x="364.70" y="1460.46" font-size="21" fill="#000">*</text>
<text x="375.90" y="1460.46" font-size="21" fill="#000">*</text>
<line x1="375.80" y1="1508.60" x2="462.50" y2="1508.60" stroke="#000" stroke-width="3" stroke-linecap="butt"/>
<text x="409.20" y="1504.56" font-size="21" fill="#000">*</text>
<text x="420.40" y="1504.56" font-size="21" fill="#000">*</text>
<text x="-0.16" y="1846.80" font-size="25.58" font-weight="bold" fill="#000">rhIL-7-hyFc</text>
<text x="-0.24" y="1892.50" font-size="25.78" font-weight="bold" fill="#000">PEG-rhG-CSF</text>
<text x="276.87" y="1851.17" font-size="38.06" fill="#000" stroke="#fff" stroke-width="0.9">+</text>
<text x="449.07" y="1851.17" font-size="38.06" fill="#000" stroke="#fff" stroke-width="0.9">+</text>
<text x="363.27" y="1897.17" font-size="38.06" fill="#000" stroke="#fff" stroke-width="0.9">+</text>
<text x="449.07" y="1897.17" font-size="38.06" fill="#000" stroke="#fff" stroke-width="0.9">+</text>
<line x1="696.70" y1="1481.80" x2="696.70" y2="1791.10" stroke="#000" stroke-width="3" stroke-linecap="butt"/>
<line x1="687.40" y1="1789.60" x2="696.70" y2="1789.60" stroke="#000" stroke-width="3" stroke-linecap="butt"/>
<text x="671.95" y="1796.34" font-size="19.89" font-weight="bold" fill="#000">0</text>
<line x1="687.40" y1="1687.50" x2="696.70" y2="1687.50" stroke="#000" stroke-width="3" stroke-linecap="butt"/>
<text x="671.71" y="1694.24" font-size="19.89" font-weight="bold" fill="#000">1</text>
<line x1="687.40" y1="1585.40" x2="696.70" y2="1585.40" stroke="#000" stroke-width="3" stroke-linecap="butt"/>
<text x="671.95" y="1592.24" font-size="19.89" font-weight="bold" fill="#000">2</text>
<line x1="687.40" y1="1483.30" x2="696.70" y2="1483.30" stroke="#000" stroke-width="3" stroke-linecap="butt"/>
<text x="671.86" y="1490.01" font-size="19.89" font-weight="bold" fill="#000">3</text>
<line x1="695.20" y1="1789.60" x2="1053.10" y2="1789.60" stroke="#000" stroke-width="3" stroke-linecap="butt"/>
<line x1="740.40" y1="1789.60" x2="740.40" y2="1798.90" stroke="#000" stroke-width="3" stroke-linecap="butt"/>
<line x1="829.10" y1="1789.60" x2="829.10" y2="1798.90" stroke="#000" stroke-width="3" stroke-linecap="butt"/>
<line x1="917.80" y1="1789.60" x2="917.80" y2="1798.90" stroke="#000" stroke-width="3" stroke-linecap="butt"/>
<line x1="1006.50" y1="1789.60" x2="1006.50" y2="1798.90" stroke="#000" stroke-width="3" stroke-linecap="butt"/>
<text x="0" y="0" font-size="25.5" font-weight="bold" transform="translate(635.70,1744.47) rotate(-90)">PB HSCs (x10<tspan dy="-7.91" font-size="17.34">3</tspan><tspan dy="7.91">/ml)</tspan></text>
<circle cx="717.00" cy="1789.20" r="7.60" fill="#000" stroke="#000" stroke-width="3"/>
<circle cx="724.00" cy="1789.20" r="7.60" fill="#000" stroke="#000" stroke-width="3"/>
<circle cx="731.00" cy="1789.20" r="7.60" fill="#000" stroke="#000" stroke-width="3"/>
<circle cx="738.00" cy="1789.20" r="7.60" fill="#000" stroke="#000" stroke-width="3"/>
<circle cx="745.00" cy="1789.20" r="7.60" fill="#000" stroke="#000" stroke-width="3"/>
<circle cx="752.00" cy="1789.20" r="7.60" fill="#000" stroke="#000" stroke-width="3"/>
<circle cx="758.00" cy="1789.20" r="7.60" fill="#000" stroke="#000" stroke-width="3"/>
<circle cx="763.60" cy="1789.20" r="7.60" fill="#000" stroke="#000" stroke-width="3"/>
<circle cx="723.80" cy="1784.50" r="7.60" fill="#000" stroke="#000" stroke-width="3"/>
<circle cx="829.10" cy="1620.00" r="7.60" fill="#FF0000" stroke="#000" stroke-width="3"/>
<circle cx="807.30" cy="1686.90" r="7.60" fill="#FF0000" stroke="#000" stroke-width="3"/>
<circle cx="829.10" cy="1686.90" r="7.60" fill="#FF0000" stroke="#000" stroke-width="3"/>
<circle cx="850.90" cy="1681.10" r="7.60" fill="#FF0000" stroke="#000" stroke-width="3"/>
<circle cx="850.90" cy="1724.70" r="7.60" fill="#FF0000" stroke="#000" stroke-width="3"/>
<circle cx="807.30" cy="1739.30" r="7.60" fill="#FF0000" stroke="#000" stroke-width="3"/>
<circle cx="850.90" cy="1740.70" r="7.60" fill="#FF0000" stroke="#000" stroke-width="3"/>
<circle cx="829.10" cy="1748.90" r="7.60" fill="#FF0000" stroke="#000" stroke-width="3"/>
<circle cx="850.90" cy="1761.10" r="7.60" fill="#FF0000" stroke="#000" stroke-width="3"/>
<circle cx="807.30" cy="1776.20" r="7.60" fill="#FF0000" stroke="#000" stroke-width="3"/>
<circle cx="896.20" cy="1787.70" r="7.60" fill="#008000" stroke="#000" stroke-width="3"/>
<circle cx="901.50" cy="1779.90" r="7.60" fill="#008000" stroke="#000" stroke-width="3"/>
<circle cx="909.10" cy="1785.80" r="7.60" fill="#008000" stroke="#000" stroke-width="3"/>
<circle cx="906.80" cy="1789.90" r="7.60" fill="#008000" stroke="#000" stroke-width="3"/>
<circle cx="923.00" cy="1783.00" r="7.60" fill="#008000" stroke="#000" stroke-width="3"/>
<circle cx="934.20" cy="1787.40" r="7.60" fill="#008000" stroke="#000" stroke-width="3"/>
<circle cx="940.50" cy="1790.50" r="7.60" fill="#008000" stroke="#000" stroke-width="3"/>
<circle cx="917.70" cy="1793.60" r="7.60" fill="#008000" stroke="#000" stroke-width="3"/>
<circle cx="928.90" cy="1792.70" r="7.60" fill="#008000" stroke="#000" stroke-width="3"/>
<circle cx="917.90" cy="1769.70" r="7.60" fill="#008000" stroke="#000" stroke-width="3"/>
<circle cx="1006.50" cy="1500.90" r="7.60" fill="#C4C000" stroke="#000" stroke-width="3"/>
<circle cx="996.30" cy="1536.20" r="7.60" fill="#C4C000" stroke="#000" stroke-width="3"/>
<circle cx="1017.30" cy="1536.20" r="7.60" fill="#C4C000" stroke="#000" stroke-width="3"/>
<circle cx="1006.50" cy="1562.70" r="7.60" fill="#C4C000" stroke="#000" stroke-width="3"/>
<circle cx="984.70" cy="1579.30" r="7.60" fill="#C4C000" stroke="#000" stroke-width="3"/>
<circle cx="1028.30" cy="1589.40" r="7.60" fill="#C4C000" stroke="#000" stroke-width="3"/>
<circle cx="1006.50" cy="1592.40" r="7.60" fill="#C4C000" stroke="#000" stroke-width="3"/>
<circle cx="1006.50" cy="1682.50" r="7.60" fill="#C4C000" stroke="#000" stroke-width="3"/>
<circle cx="984.70" cy="1692.70" r="7.60" fill="#C4C000" stroke="#000" stroke-width="3"/>
<circle cx="1028.30" cy="1689.80" r="7.60" fill="#C4C000" stroke="#000" stroke-width="3"/>
<line x1="829.30" y1="1701.80" x2="829.30" y2="1731.50" stroke="#000" stroke-width="3.2" stroke-linecap="butt"/>
<line x1="814.50" y1="1701.80" x2="843.80" y2="1701.80" stroke="#000" stroke-width="3.1" stroke-linecap="butt"/>
<line x1="819.50" y1="1716.90" x2="838.80" y2="1716.90" stroke="#000" stroke-width="3.1" stroke-linecap="butt"/>
<line x1="814.50" y1="1731.50" x2="843.80" y2="1731.50" stroke="#000" stroke-width="3.1" stroke-linecap="butt"/>
<line x1="1006.50" y1="1574.30" x2="1006.50" y2="1618.00" stroke="#000" stroke-width="3" stroke-linecap="butt"/>
<line x1="990.50" y1="1574.30" x2="1020.20" y2="1574.30" stroke="#000" stroke-width="3" stroke-linecap="butt"/>
<line x1="990.50" y1="1618.00" x2="1022.50" y2="1618.00" stroke="#000" stroke-width="3" stroke-linecap="butt"/>
<line x1="917.80" y1="1779.00" x2="917.80" y2="1790.00" stroke="#000" stroke-width="3" stroke-linecap="butt"/>
<line x1="829.10" y1="1439.00" x2="1006.50" y2="1439.00" stroke="#000" stroke-width="3" stroke-linecap="butt"/>
<text x="901.11" y="1431.73" font-size="22.5" fill="#000">*</text>
<text x="912.21" y="1431.73" font-size="22.5" fill="#000">*</text>
<text x="923.31" y="1431.73" font-size="22.5" fill="#000">*</text>
<line x1="917.80" y1="1480.40" x2="1006.50" y2="1480.40" stroke="#000" stroke-width="3" stroke-linecap="butt"/>
<text x="945.91" y="1476.33" font-size="22.5" fill="#000">*</text>
<text x="957.01" y="1476.33" font-size="22.5" fill="#000">*</text>
<text x="968.11" y="1476.33" font-size="22.5" fill="#000">*</text>
<text x="578.74" y="1849.80" font-size="25.48" font-weight="bold" fill="#000">rhIL-7-hyFc</text>
<text x="579.77" y="1896.30" font-size="25.27" font-weight="bold" fill="#000">AMD3100</text>
<text x="817.97" y="1855.57" font-size="38.06" fill="#000" stroke="#fff" stroke-width="0.9">+</text>
<text x="995.37" y="1855.57" font-size="38.06" fill="#000" stroke="#fff" stroke-width="0.9">+</text>
<text x="904.37" y="1901.57" font-size="38.06" fill="#000" stroke="#fff" stroke-width="0.9">+</text>
<text x="995.37" y="1901.57" font-size="38.06" fill="#000" stroke="#fff" stroke-width="0.9">+</text>
<line x1="1251.40" y1="1475.36" x2="1251.40" y2="1790.20" stroke="#000" stroke-width="3" stroke-linecap="butt"/>
<line x1="1241.80" y1="1788.70" x2="1251.40" y2="1788.70" stroke="#000" stroke-width="3" stroke-linecap="butt"/>
<text x="1228.15" y="1795.44" font-size="19.89" font-weight="bold" fill="#000">0</text>
<line x1="1241.80" y1="1710.74" x2="1251.40" y2="1710.74" stroke="#000" stroke-width="3" stroke-linecap="butt"/>
<text x="1228.15" y="1717.58" font-size="19.89" font-weight="bold" fill="#000">2</text>
<line x1="1241.80" y1="1632.78" x2="1251.40" y2="1632.78" stroke="#000" stroke-width="3" stroke-linecap="butt"/>
<text x="1227.46" y="1639.52" font-size="19.89" font-weight="bold" fill="#000">4</text>
<line x1="1241.80" y1="1554.82" x2="1251.40" y2="1554.82" stroke="#000" stroke-width="3" stroke-linecap="butt"/>
<text x="1228.06" y="1561.56" font-size="19.89" font-weight="bold" fill="#000">6</text>
<line x1="1241.80" y1="1476.86" x2="1251.40" y2="1476.86" stroke="#000" stroke-width="3" stroke-linecap="butt"/>
<text x="1227.96" y="1483.60" font-size="19.89" font-weight="bold" fill="#000">8</text>
<line x1="1249.90" y1="1788.70" x2="1597.60" y2="1788.70" stroke="#000" stroke-width="3" stroke-linecap="butt"/>
<line x1="1308.80" y1="1788.70" x2="1308.80" y2="1798.70" stroke="#000" stroke-width="3" stroke-linecap="butt"/>
<line x1="1423.10" y1="1788.70" x2="1423.10" y2="1798.70" stroke="#000" stroke-width="3" stroke-linecap="butt"/>
<line x1="1537.40" y1="1788.70" x2="1537.40" y2="1798.70" stroke="#000" stroke-width="3" stroke-linecap="butt"/>
<text x="0" y="0" font-size="25.5" font-weight="bold" transform="translate(1201.30,1744.47) rotate(-90)">PB HSCs (x10<tspan dy="-7.91" font-size="17.34">3</tspan><tspan dy="7.91">/ml)</tspan></text>
<circle cx="1309.10" cy="1685.80" r="6.20" fill="#FF8000" stroke="#000" stroke-width="3"/>
<circle cx="1309.10" cy="1698.60" r="6.20" fill="#FF8000" stroke="#000" stroke-width="3"/>
<circle cx="1341.10" cy="1715.70" r="6.20" fill="#FF8000" stroke="#000" stroke-width="3"/>
<circle cx="1277.10" cy="1725.00" r="6.20" fill="#FF8000" stroke="#000" stroke-width="3"/>
<circle cx="1298.30" cy="1728.10" r="6.20" fill="#FF8000" stroke="#000" stroke-width="3"/>
<circle cx="1319.70" cy="1726.50" r="6.20" fill="#FF8000" stroke="#000" stroke-width="3"/>
<circle cx="1341.10" cy="1736.50" r="6.20" fill="#FF8000" stroke="#000" stroke-width="3"/>
<circle cx="1319.70" cy="1742.00" r="6.20" fill="#FF8000" stroke="#000" stroke-width="3"/>
<circle cx="1298.30" cy="1752.90" r="6.20" fill="#FF8000" stroke="#000" stroke-width="3"/>
<circle cx="1319.70" cy="1761.60" r="6.20" fill="#FF8000" stroke="#000" stroke-width="3"/>
<circle cx="1309.10" cy="1775.90" r="6.20" fill="#FF8000" stroke="#000" stroke-width="3"/>
<circle cx="1423.70" cy="1600.60" r="6.20" fill="#C2B782" stroke="#000" stroke-width="3"/>
<circle cx="1423.70" cy="1664.60" r="6.20" fill="#C2B782" stroke="#000" stroke-width="3"/>
<circle cx="1423.70" cy="1678.40" r="6.20" fill="#C2B782" stroke="#000" stroke-width="3"/>
<circle cx="1398.90" cy="1692.10" r="6.20" fill="#C2B782" stroke="#000" stroke-width="3"/>
<circle cx="1423.70" cy="1692.50" r="6.20" fill="#C2B782" stroke="#000" stroke-width="3"/>
<circle cx="1449.20" cy="1702.30" r="6.20" fill="#C2B782" stroke="#000" stroke-width="3"/>
<circle cx="1398.90" cy="1713.90" r="6.20" fill="#C2B782" stroke="#000" stroke-width="3"/>
<circle cx="1423.70" cy="1708.70" r="6.20" fill="#C2B782" stroke="#000" stroke-width="3"/>
<circle cx="1449.20" cy="1718.30" r="6.20" fill="#C2B782" stroke="#000" stroke-width="3"/>
<circle cx="1423.60" cy="1724.70" r="6.20" fill="#C2B782" stroke="#000" stroke-width="3"/>
<circle cx="1423.60" cy="1750.90" r="6.20" fill="#C2B782" stroke="#000" stroke-width="3"/>
<circle cx="1538.00" cy="1514.40" r="6.20" fill="#CC0A6A" stroke="#000" stroke-width="3"/>
<circle cx="1538.00" cy="1534.20" r="6.20" fill="#CC0A6A" stroke="#000" stroke-width="3"/>
<circle cx="1538.00" cy="1590.40" r="6.20" fill="#CC0A6A" stroke="#000" stroke-width="3"/>
<circle cx="1506.10" cy="1610.10" r="6.20" fill="#CC0A6A" stroke="#000" stroke-width="3"/>
<circle cx="1548.70" cy="1612.80" r="6.20" fill="#CC0A6A" stroke="#000" stroke-width="3"/>
<circle cx="1527.50" cy="1618.20" r="6.20" fill="#CC0A6A" stroke="#000" stroke-width="3"/>
<circle cx="1548.70" cy="1626.10" r="6.20" fill="#CC0A6A" stroke="#000" stroke-width="3"/>
<circle cx="1538.00" cy="1639.80" r="6.20" fill="#CC0A6A" stroke="#000" stroke-width="3"/>
<circle cx="1538.00" cy="1676.30" r="6.20" fill="#CC0A6A" stroke="#000" stroke-width="3"/>
<circle cx="1538.00" cy="1729.00" r="6.20" fill="#CC0A6A" stroke="#000" stroke-width="3"/>
<circle cx="1571.50" cy="1616.20" r="6.20" fill="#CC0A6A" stroke="#000" stroke-width="3"/>
<line x1="1308.80" y1="1723.50" x2="1308.80" y2="1740.00" stroke="#000" stroke-width="3" stroke-linecap="butt"/>
<line x1="1290.20" y1="1723.50" x2="1328.10" y2="1723.50" stroke="#000" stroke-width="3" stroke-linecap="butt"/>
<line x1="1290.20" y1="1739.90" x2="1310.00" y2="1739.90" stroke="#000" stroke-width="3" stroke-linecap="butt"/>
<line x1="1423.60" y1="1683.40" x2="1423.60" y2="1707.30" stroke="#000" stroke-width="3" stroke-linecap="butt"/>
<line x1="1405.00" y1="1683.40" x2="1442.80" y2="1683.40" stroke="#000" stroke-width="3" stroke-linecap="butt"/>
<line x1="1411.20" y1="1695.40" x2="1436.10" y2="1695.40" stroke="#000" stroke-width="3" stroke-linecap="butt"/>
<line x1="1405.60" y1="1707.30" x2="1455.10" y2="1707.30" stroke="#000" stroke-width="3" stroke-linecap="butt"/>
<line x1="1538.00" y1="1597.60" x2="1538.00" y2="1633.20" stroke="#000" stroke-width="3" stroke-linecap="butt"/>
<line x1="1519.20" y1="1597.60" x2="1557.00" y2="1597.60" stroke="#000" stroke-width="3" stroke-linecap="butt"/>
<line x1="1519.20" y1="1633.20" x2="1557.00" y2="1633.20" stroke="#000" stroke-width="3" stroke-linecap="butt"/>
<line x1="1534.60" y1="1615.30" x2="1541.20" y2="1615.30" stroke="#000" stroke-width="3" stroke-linecap="butt"/>
<line x1="1310.20" y1="1448.90" x2="1537.40" y2="1448.90" stroke="#000" stroke-width="3" stroke-linecap="butt"/>
<text x="1408.11" y="1444.83" font-size="22.5" fill="#000">*</text>
<text x="1418.71" y="1444.83" font-size="22.5" fill="#000">*</text>
<text x="1429.31" y="1444.83" font-size="22.5" fill="#000">*</text>
<line x1="1310.20" y1="1483.30" x2="1410.60" y2="1483.30" stroke="#000" stroke-width="3" stroke-linecap="butt"/>
<text x="1346.72" y="1475.40" font-size="23.34" fill="#000">ns</text>
<line x1="1437.00" y1="1483.30" x2="1537.40" y2="1483.30" stroke="#000" stroke-width="3" stroke-linecap="butt"/>
<text x="1472.91" y="1483.53" font-size="22.5" fill="#000">*</text>
<text x="1483.51" y="1483.53" font-size="22.5" fill="#000">*</text>
<text x="1494.11" y="1483.53" font-size="22.5" fill="#000">*</text>
<text x="1098.54" y="1849.80" font-size="25.48" font-weight="bold" fill="#000">rhIL-7-hyFc</text>
<text x="1098.47" y="1895.50" font-size="25.58" font-weight="bold" fill="#000">PEG-rhG-CSF</text>
<text x="1099.57" y="1940.50" font-size="25.27" font-weight="bold" fill="#000">AMD3100</text>
<text x="1298.47" y="1854.97" font-size="38.06" fill="#000" stroke="#fff" stroke-width="0.9">+</text>
<text x="1411.97" y="1854.97" font-size="38.06" fill="#000" stroke="#fff" stroke-width="0.9">+</text>
<text x="1524.57" y="1854.97" font-size="38.06" fill="#000" stroke="#fff" stroke-width="0.9">+</text>
<text x="1298.47" y="1900.07" font-size="38.06" fill="#000" stroke="#fff" stroke-width="0.9">+</text>
<text x="1524.57" y="1900.07" font-size="38.06" fill="#000" stroke="#fff" stroke-width="0.9">+</text>
<text x="1411.97" y="1940.77" font-size="38.06" fill="#000" stroke="#fff" stroke-width="0.9">+</text>
<text x="1524.57" y="1940.77" font-size="38.06" fill="#000" stroke="#fff" stroke-width="0.9">+</text>
</svg>
</body></html>
